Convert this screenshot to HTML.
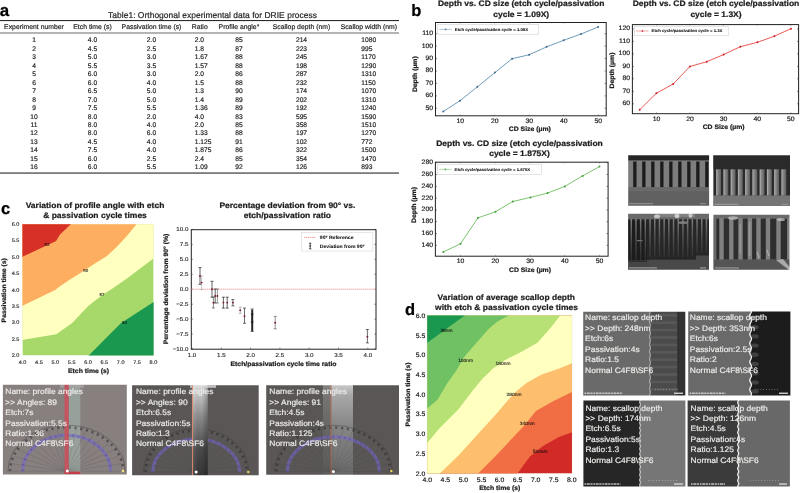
<!DOCTYPE html>
<html><head><meta charset="utf-8"><title>DRIE figure</title>
<style>
html,body{margin:0;padding:0;background:#fff;}
body{width:800px;height:493px;overflow:hidden;position:relative;font-family:"Liberation Sans",sans-serif;}
svg{position:absolute;left:0;top:0;font-family:"Liberation Sans",sans-serif;}
text{font-family:"Liberation Sans",sans-serif;text-rendering:geometricPrecision;}
</style></head><body>
<svg width="800" height="493" viewBox="0 0 800 493">
<defs>
<filter id="bl" x="-2%" y="-2%" width="104%" height="104%"><feGaussianBlur stdDeviation="0.3"/></filter>
<filter id="bl2" x="-2%" y="-2%" width="104%" height="104%"><feGaussianBlur stdDeviation="0.7"/></filter>
<filter id="bl3" x="-2%" y="-2%" width="104%" height="104%"><feGaussianBlur stdDeviation="1.1"/></filter>
</defs>
<rect x="0" y="0" width="800" height="493" fill="#ffffff"/>

<g id="panelA" filter="url(#bl)">
<text transform="translate(-0.30,16.00) scale(0.1000,0.1000)" font-size="170.0" text-anchor="start" font-weight="bold" fill="#000" stroke="#000" stroke-width="2.2" stroke-linejoin="round">a</text>
<text transform="translate(212.50,18.30) scale(0.1000,0.1000)" font-size="85.0" text-anchor="middle" fill="#1c1c1c" stroke="#1c1c1c" stroke-width="1.8" stroke-linejoin="round">Table1: Orthogonal experimental data for DRIE process</text>
<rect x="0" y="20.0" width="399" height="1.1" fill="#2a2a2a"/>
<rect x="0" y="32.6" width="399" height="0.8" fill="#444"/>
<rect x="0" y="172.5" width="399" height="1.1" fill="#2a2a2a"/>
<text transform="translate(34.00,29.30) scale(0.1000,0.1000)" font-size="68.5" text-anchor="middle" fill="#1c1c1c" stroke="#1c1c1c" stroke-width="1.8" stroke-linejoin="round">Experiment number</text>
<text transform="translate(92.50,29.30) scale(0.1000,0.1000)" font-size="68.5" text-anchor="middle" fill="#1c1c1c" stroke="#1c1c1c" stroke-width="1.8" stroke-linejoin="round">Etch time (s)</text>
<text transform="translate(151.50,29.30) scale(0.1000,0.1000)" font-size="68.5" text-anchor="middle" fill="#1c1c1c" stroke="#1c1c1c" stroke-width="1.8" stroke-linejoin="round">Passivation time (s)</text>
<text transform="translate(199.70,29.30) scale(0.1000,0.1000)" font-size="68.5" text-anchor="middle" fill="#1c1c1c" stroke="#1c1c1c" stroke-width="1.8" stroke-linejoin="round">Ratio</text>
<text transform="translate(239.00,29.30) scale(0.1000,0.1000)" font-size="68.5" text-anchor="middle" fill="#1c1c1c" stroke="#1c1c1c" stroke-width="1.8" stroke-linejoin="round">Profile angle°</text>
<text transform="translate(301.50,29.30) scale(0.1000,0.1000)" font-size="68.5" text-anchor="middle" fill="#1c1c1c" stroke="#1c1c1c" stroke-width="1.8" stroke-linejoin="round">Scallop depth (nm)</text>
<text transform="translate(368.80,29.30) scale(0.1000,0.1000)" font-size="68.5" text-anchor="middle" fill="#1c1c1c" stroke="#1c1c1c" stroke-width="1.8" stroke-linejoin="round">Scallop width (nm)</text>
<text transform="translate(34.00,42.30) scale(0.1000,0.1000)" font-size="67.0" text-anchor="middle" fill="#1c1c1c" stroke="#1c1c1c" stroke-width="1.8" stroke-linejoin="round">1</text>
<text transform="translate(92.50,42.30) scale(0.1000,0.1000)" font-size="67.0" text-anchor="middle" fill="#1c1c1c" stroke="#1c1c1c" stroke-width="1.8" stroke-linejoin="round">4.0</text>
<text transform="translate(151.50,42.30) scale(0.1000,0.1000)" font-size="67.0" text-anchor="middle" fill="#1c1c1c" stroke="#1c1c1c" stroke-width="1.8" stroke-linejoin="round">2.0</text>
<text transform="translate(194.70,42.30) scale(0.1000,0.1000)" font-size="67.0" text-anchor="start" fill="#1c1c1c" stroke="#1c1c1c" stroke-width="1.8" stroke-linejoin="round">2.0</text>
<text transform="translate(239.00,42.30) scale(0.1000,0.1000)" font-size="67.0" text-anchor="middle" fill="#1c1c1c" stroke="#1c1c1c" stroke-width="1.8" stroke-linejoin="round">85</text>
<text transform="translate(301.50,42.30) scale(0.1000,0.1000)" font-size="67.0" text-anchor="middle" fill="#1c1c1c" stroke="#1c1c1c" stroke-width="1.8" stroke-linejoin="round">214</text>
<text transform="translate(361.20,42.30) scale(0.1000,0.1000)" font-size="67.0" text-anchor="start" fill="#1c1c1c" stroke="#1c1c1c" stroke-width="1.8" stroke-linejoin="round">1080</text>
<text transform="translate(34.00,50.77) scale(0.1000,0.1000)" font-size="67.0" text-anchor="middle" fill="#1c1c1c" stroke="#1c1c1c" stroke-width="1.8" stroke-linejoin="round">2</text>
<text transform="translate(92.50,50.77) scale(0.1000,0.1000)" font-size="67.0" text-anchor="middle" fill="#1c1c1c" stroke="#1c1c1c" stroke-width="1.8" stroke-linejoin="round">4.5</text>
<text transform="translate(151.50,50.77) scale(0.1000,0.1000)" font-size="67.0" text-anchor="middle" fill="#1c1c1c" stroke="#1c1c1c" stroke-width="1.8" stroke-linejoin="round">2.5</text>
<text transform="translate(194.70,50.77) scale(0.1000,0.1000)" font-size="67.0" text-anchor="start" fill="#1c1c1c" stroke="#1c1c1c" stroke-width="1.8" stroke-linejoin="round">1.8</text>
<text transform="translate(239.00,50.77) scale(0.1000,0.1000)" font-size="67.0" text-anchor="middle" fill="#1c1c1c" stroke="#1c1c1c" stroke-width="1.8" stroke-linejoin="round">87</text>
<text transform="translate(301.50,50.77) scale(0.1000,0.1000)" font-size="67.0" text-anchor="middle" fill="#1c1c1c" stroke="#1c1c1c" stroke-width="1.8" stroke-linejoin="round">223</text>
<text transform="translate(361.20,50.77) scale(0.1000,0.1000)" font-size="67.0" text-anchor="start" fill="#1c1c1c" stroke="#1c1c1c" stroke-width="1.8" stroke-linejoin="round">995</text>
<text transform="translate(34.00,59.24) scale(0.1000,0.1000)" font-size="67.0" text-anchor="middle" fill="#1c1c1c" stroke="#1c1c1c" stroke-width="1.8" stroke-linejoin="round">3</text>
<text transform="translate(92.50,59.24) scale(0.1000,0.1000)" font-size="67.0" text-anchor="middle" fill="#1c1c1c" stroke="#1c1c1c" stroke-width="1.8" stroke-linejoin="round">5.0</text>
<text transform="translate(151.50,59.24) scale(0.1000,0.1000)" font-size="67.0" text-anchor="middle" fill="#1c1c1c" stroke="#1c1c1c" stroke-width="1.8" stroke-linejoin="round">3.0</text>
<text transform="translate(194.70,59.24) scale(0.1000,0.1000)" font-size="67.0" text-anchor="start" fill="#1c1c1c" stroke="#1c1c1c" stroke-width="1.8" stroke-linejoin="round">1.67</text>
<text transform="translate(239.00,59.24) scale(0.1000,0.1000)" font-size="67.0" text-anchor="middle" fill="#1c1c1c" stroke="#1c1c1c" stroke-width="1.8" stroke-linejoin="round">88</text>
<text transform="translate(301.50,59.24) scale(0.1000,0.1000)" font-size="67.0" text-anchor="middle" fill="#1c1c1c" stroke="#1c1c1c" stroke-width="1.8" stroke-linejoin="round">245</text>
<text transform="translate(361.20,59.24) scale(0.1000,0.1000)" font-size="67.0" text-anchor="start" fill="#1c1c1c" stroke="#1c1c1c" stroke-width="1.8" stroke-linejoin="round">1170</text>
<text transform="translate(34.00,67.71) scale(0.1000,0.1000)" font-size="67.0" text-anchor="middle" fill="#1c1c1c" stroke="#1c1c1c" stroke-width="1.8" stroke-linejoin="round">4</text>
<text transform="translate(92.50,67.71) scale(0.1000,0.1000)" font-size="67.0" text-anchor="middle" fill="#1c1c1c" stroke="#1c1c1c" stroke-width="1.8" stroke-linejoin="round">5.5</text>
<text transform="translate(151.50,67.71) scale(0.1000,0.1000)" font-size="67.0" text-anchor="middle" fill="#1c1c1c" stroke="#1c1c1c" stroke-width="1.8" stroke-linejoin="round">3.5</text>
<text transform="translate(194.70,67.71) scale(0.1000,0.1000)" font-size="67.0" text-anchor="start" fill="#1c1c1c" stroke="#1c1c1c" stroke-width="1.8" stroke-linejoin="round">1.57</text>
<text transform="translate(239.00,67.71) scale(0.1000,0.1000)" font-size="67.0" text-anchor="middle" fill="#1c1c1c" stroke="#1c1c1c" stroke-width="1.8" stroke-linejoin="round">88</text>
<text transform="translate(301.50,67.71) scale(0.1000,0.1000)" font-size="67.0" text-anchor="middle" fill="#1c1c1c" stroke="#1c1c1c" stroke-width="1.8" stroke-linejoin="round">198</text>
<text transform="translate(361.20,67.71) scale(0.1000,0.1000)" font-size="67.0" text-anchor="start" fill="#1c1c1c" stroke="#1c1c1c" stroke-width="1.8" stroke-linejoin="round">1290</text>
<text transform="translate(34.00,76.18) scale(0.1000,0.1000)" font-size="67.0" text-anchor="middle" fill="#1c1c1c" stroke="#1c1c1c" stroke-width="1.8" stroke-linejoin="round">5</text>
<text transform="translate(92.50,76.18) scale(0.1000,0.1000)" font-size="67.0" text-anchor="middle" fill="#1c1c1c" stroke="#1c1c1c" stroke-width="1.8" stroke-linejoin="round">6.0</text>
<text transform="translate(151.50,76.18) scale(0.1000,0.1000)" font-size="67.0" text-anchor="middle" fill="#1c1c1c" stroke="#1c1c1c" stroke-width="1.8" stroke-linejoin="round">3.0</text>
<text transform="translate(194.70,76.18) scale(0.1000,0.1000)" font-size="67.0" text-anchor="start" fill="#1c1c1c" stroke="#1c1c1c" stroke-width="1.8" stroke-linejoin="round">2.0</text>
<text transform="translate(239.00,76.18) scale(0.1000,0.1000)" font-size="67.0" text-anchor="middle" fill="#1c1c1c" stroke="#1c1c1c" stroke-width="1.8" stroke-linejoin="round">86</text>
<text transform="translate(301.50,76.18) scale(0.1000,0.1000)" font-size="67.0" text-anchor="middle" fill="#1c1c1c" stroke="#1c1c1c" stroke-width="1.8" stroke-linejoin="round">287</text>
<text transform="translate(361.20,76.18) scale(0.1000,0.1000)" font-size="67.0" text-anchor="start" fill="#1c1c1c" stroke="#1c1c1c" stroke-width="1.8" stroke-linejoin="round">1310</text>
<text transform="translate(34.00,84.65) scale(0.1000,0.1000)" font-size="67.0" text-anchor="middle" fill="#1c1c1c" stroke="#1c1c1c" stroke-width="1.8" stroke-linejoin="round">6</text>
<text transform="translate(92.50,84.65) scale(0.1000,0.1000)" font-size="67.0" text-anchor="middle" fill="#1c1c1c" stroke="#1c1c1c" stroke-width="1.8" stroke-linejoin="round">6.0</text>
<text transform="translate(151.50,84.65) scale(0.1000,0.1000)" font-size="67.0" text-anchor="middle" fill="#1c1c1c" stroke="#1c1c1c" stroke-width="1.8" stroke-linejoin="round">4.0</text>
<text transform="translate(194.70,84.65) scale(0.1000,0.1000)" font-size="67.0" text-anchor="start" fill="#1c1c1c" stroke="#1c1c1c" stroke-width="1.8" stroke-linejoin="round">1.5</text>
<text transform="translate(239.00,84.65) scale(0.1000,0.1000)" font-size="67.0" text-anchor="middle" fill="#1c1c1c" stroke="#1c1c1c" stroke-width="1.8" stroke-linejoin="round">88</text>
<text transform="translate(301.50,84.65) scale(0.1000,0.1000)" font-size="67.0" text-anchor="middle" fill="#1c1c1c" stroke="#1c1c1c" stroke-width="1.8" stroke-linejoin="round">232</text>
<text transform="translate(361.20,84.65) scale(0.1000,0.1000)" font-size="67.0" text-anchor="start" fill="#1c1c1c" stroke="#1c1c1c" stroke-width="1.8" stroke-linejoin="round">1150</text>
<text transform="translate(34.00,93.12) scale(0.1000,0.1000)" font-size="67.0" text-anchor="middle" fill="#1c1c1c" stroke="#1c1c1c" stroke-width="1.8" stroke-linejoin="round">7</text>
<text transform="translate(92.50,93.12) scale(0.1000,0.1000)" font-size="67.0" text-anchor="middle" fill="#1c1c1c" stroke="#1c1c1c" stroke-width="1.8" stroke-linejoin="round">6.5</text>
<text transform="translate(151.50,93.12) scale(0.1000,0.1000)" font-size="67.0" text-anchor="middle" fill="#1c1c1c" stroke="#1c1c1c" stroke-width="1.8" stroke-linejoin="round">5.0</text>
<text transform="translate(194.70,93.12) scale(0.1000,0.1000)" font-size="67.0" text-anchor="start" fill="#1c1c1c" stroke="#1c1c1c" stroke-width="1.8" stroke-linejoin="round">1.3</text>
<text transform="translate(239.00,93.12) scale(0.1000,0.1000)" font-size="67.0" text-anchor="middle" fill="#1c1c1c" stroke="#1c1c1c" stroke-width="1.8" stroke-linejoin="round">90</text>
<text transform="translate(301.50,93.12) scale(0.1000,0.1000)" font-size="67.0" text-anchor="middle" fill="#1c1c1c" stroke="#1c1c1c" stroke-width="1.8" stroke-linejoin="round">174</text>
<text transform="translate(361.20,93.12) scale(0.1000,0.1000)" font-size="67.0" text-anchor="start" fill="#1c1c1c" stroke="#1c1c1c" stroke-width="1.8" stroke-linejoin="round">1070</text>
<text transform="translate(34.00,101.59) scale(0.1000,0.1000)" font-size="67.0" text-anchor="middle" fill="#1c1c1c" stroke="#1c1c1c" stroke-width="1.8" stroke-linejoin="round">8</text>
<text transform="translate(92.50,101.59) scale(0.1000,0.1000)" font-size="67.0" text-anchor="middle" fill="#1c1c1c" stroke="#1c1c1c" stroke-width="1.8" stroke-linejoin="round">7.0</text>
<text transform="translate(151.50,101.59) scale(0.1000,0.1000)" font-size="67.0" text-anchor="middle" fill="#1c1c1c" stroke="#1c1c1c" stroke-width="1.8" stroke-linejoin="round">5.0</text>
<text transform="translate(194.70,101.59) scale(0.1000,0.1000)" font-size="67.0" text-anchor="start" fill="#1c1c1c" stroke="#1c1c1c" stroke-width="1.8" stroke-linejoin="round">1.4</text>
<text transform="translate(239.00,101.59) scale(0.1000,0.1000)" font-size="67.0" text-anchor="middle" fill="#1c1c1c" stroke="#1c1c1c" stroke-width="1.8" stroke-linejoin="round">89</text>
<text transform="translate(301.50,101.59) scale(0.1000,0.1000)" font-size="67.0" text-anchor="middle" fill="#1c1c1c" stroke="#1c1c1c" stroke-width="1.8" stroke-linejoin="round">202</text>
<text transform="translate(361.20,101.59) scale(0.1000,0.1000)" font-size="67.0" text-anchor="start" fill="#1c1c1c" stroke="#1c1c1c" stroke-width="1.8" stroke-linejoin="round">1310</text>
<text transform="translate(34.00,110.06) scale(0.1000,0.1000)" font-size="67.0" text-anchor="middle" fill="#1c1c1c" stroke="#1c1c1c" stroke-width="1.8" stroke-linejoin="round">9</text>
<text transform="translate(92.50,110.06) scale(0.1000,0.1000)" font-size="67.0" text-anchor="middle" fill="#1c1c1c" stroke="#1c1c1c" stroke-width="1.8" stroke-linejoin="round">7.5</text>
<text transform="translate(151.50,110.06) scale(0.1000,0.1000)" font-size="67.0" text-anchor="middle" fill="#1c1c1c" stroke="#1c1c1c" stroke-width="1.8" stroke-linejoin="round">5.5</text>
<text transform="translate(194.70,110.06) scale(0.1000,0.1000)" font-size="67.0" text-anchor="start" fill="#1c1c1c" stroke="#1c1c1c" stroke-width="1.8" stroke-linejoin="round">1.36</text>
<text transform="translate(239.00,110.06) scale(0.1000,0.1000)" font-size="67.0" text-anchor="middle" fill="#1c1c1c" stroke="#1c1c1c" stroke-width="1.8" stroke-linejoin="round">89</text>
<text transform="translate(301.50,110.06) scale(0.1000,0.1000)" font-size="67.0" text-anchor="middle" fill="#1c1c1c" stroke="#1c1c1c" stroke-width="1.8" stroke-linejoin="round">192</text>
<text transform="translate(361.20,110.06) scale(0.1000,0.1000)" font-size="67.0" text-anchor="start" fill="#1c1c1c" stroke="#1c1c1c" stroke-width="1.8" stroke-linejoin="round">1240</text>
<text transform="translate(34.00,118.53) scale(0.1000,0.1000)" font-size="67.0" text-anchor="middle" fill="#1c1c1c" stroke="#1c1c1c" stroke-width="1.8" stroke-linejoin="round">10</text>
<text transform="translate(92.50,118.53) scale(0.1000,0.1000)" font-size="67.0" text-anchor="middle" fill="#1c1c1c" stroke="#1c1c1c" stroke-width="1.8" stroke-linejoin="round">8.0</text>
<text transform="translate(151.50,118.53) scale(0.1000,0.1000)" font-size="67.0" text-anchor="middle" fill="#1c1c1c" stroke="#1c1c1c" stroke-width="1.8" stroke-linejoin="round">2.0</text>
<text transform="translate(194.70,118.53) scale(0.1000,0.1000)" font-size="67.0" text-anchor="start" fill="#1c1c1c" stroke="#1c1c1c" stroke-width="1.8" stroke-linejoin="round">4.0</text>
<text transform="translate(239.00,118.53) scale(0.1000,0.1000)" font-size="67.0" text-anchor="middle" fill="#1c1c1c" stroke="#1c1c1c" stroke-width="1.8" stroke-linejoin="round">83</text>
<text transform="translate(301.50,118.53) scale(0.1000,0.1000)" font-size="67.0" text-anchor="middle" fill="#1c1c1c" stroke="#1c1c1c" stroke-width="1.8" stroke-linejoin="round">595</text>
<text transform="translate(361.20,118.53) scale(0.1000,0.1000)" font-size="67.0" text-anchor="start" fill="#1c1c1c" stroke="#1c1c1c" stroke-width="1.8" stroke-linejoin="round">1590</text>
<text transform="translate(34.00,127.00) scale(0.1000,0.1000)" font-size="67.0" text-anchor="middle" fill="#1c1c1c" stroke="#1c1c1c" stroke-width="1.8" stroke-linejoin="round">11</text>
<text transform="translate(92.50,127.00) scale(0.1000,0.1000)" font-size="67.0" text-anchor="middle" fill="#1c1c1c" stroke="#1c1c1c" stroke-width="1.8" stroke-linejoin="round">8.0</text>
<text transform="translate(151.50,127.00) scale(0.1000,0.1000)" font-size="67.0" text-anchor="middle" fill="#1c1c1c" stroke="#1c1c1c" stroke-width="1.8" stroke-linejoin="round">4.0</text>
<text transform="translate(194.70,127.00) scale(0.1000,0.1000)" font-size="67.0" text-anchor="start" fill="#1c1c1c" stroke="#1c1c1c" stroke-width="1.8" stroke-linejoin="round">2.0</text>
<text transform="translate(239.00,127.00) scale(0.1000,0.1000)" font-size="67.0" text-anchor="middle" fill="#1c1c1c" stroke="#1c1c1c" stroke-width="1.8" stroke-linejoin="round">85</text>
<text transform="translate(301.50,127.00) scale(0.1000,0.1000)" font-size="67.0" text-anchor="middle" fill="#1c1c1c" stroke="#1c1c1c" stroke-width="1.8" stroke-linejoin="round">358</text>
<text transform="translate(361.20,127.00) scale(0.1000,0.1000)" font-size="67.0" text-anchor="start" fill="#1c1c1c" stroke="#1c1c1c" stroke-width="1.8" stroke-linejoin="round">1510</text>
<text transform="translate(34.00,135.47) scale(0.1000,0.1000)" font-size="67.0" text-anchor="middle" fill="#1c1c1c" stroke="#1c1c1c" stroke-width="1.8" stroke-linejoin="round">12</text>
<text transform="translate(92.50,135.47) scale(0.1000,0.1000)" font-size="67.0" text-anchor="middle" fill="#1c1c1c" stroke="#1c1c1c" stroke-width="1.8" stroke-linejoin="round">8.0</text>
<text transform="translate(151.50,135.47) scale(0.1000,0.1000)" font-size="67.0" text-anchor="middle" fill="#1c1c1c" stroke="#1c1c1c" stroke-width="1.8" stroke-linejoin="round">6.0</text>
<text transform="translate(194.70,135.47) scale(0.1000,0.1000)" font-size="67.0" text-anchor="start" fill="#1c1c1c" stroke="#1c1c1c" stroke-width="1.8" stroke-linejoin="round">1.33</text>
<text transform="translate(239.00,135.47) scale(0.1000,0.1000)" font-size="67.0" text-anchor="middle" fill="#1c1c1c" stroke="#1c1c1c" stroke-width="1.8" stroke-linejoin="round">88</text>
<text transform="translate(301.50,135.47) scale(0.1000,0.1000)" font-size="67.0" text-anchor="middle" fill="#1c1c1c" stroke="#1c1c1c" stroke-width="1.8" stroke-linejoin="round">197</text>
<text transform="translate(361.20,135.47) scale(0.1000,0.1000)" font-size="67.0" text-anchor="start" fill="#1c1c1c" stroke="#1c1c1c" stroke-width="1.8" stroke-linejoin="round">1270</text>
<text transform="translate(34.00,143.94) scale(0.1000,0.1000)" font-size="67.0" text-anchor="middle" fill="#1c1c1c" stroke="#1c1c1c" stroke-width="1.8" stroke-linejoin="round">13</text>
<text transform="translate(92.50,143.94) scale(0.1000,0.1000)" font-size="67.0" text-anchor="middle" fill="#1c1c1c" stroke="#1c1c1c" stroke-width="1.8" stroke-linejoin="round">4.5</text>
<text transform="translate(151.50,143.94) scale(0.1000,0.1000)" font-size="67.0" text-anchor="middle" fill="#1c1c1c" stroke="#1c1c1c" stroke-width="1.8" stroke-linejoin="round">4.0</text>
<text transform="translate(194.70,143.94) scale(0.1000,0.1000)" font-size="67.0" text-anchor="start" fill="#1c1c1c" stroke="#1c1c1c" stroke-width="1.8" stroke-linejoin="round">1.125</text>
<text transform="translate(239.00,143.94) scale(0.1000,0.1000)" font-size="67.0" text-anchor="middle" fill="#1c1c1c" stroke="#1c1c1c" stroke-width="1.8" stroke-linejoin="round">91</text>
<text transform="translate(301.50,143.94) scale(0.1000,0.1000)" font-size="67.0" text-anchor="middle" fill="#1c1c1c" stroke="#1c1c1c" stroke-width="1.8" stroke-linejoin="round">102</text>
<text transform="translate(361.20,143.94) scale(0.1000,0.1000)" font-size="67.0" text-anchor="start" fill="#1c1c1c" stroke="#1c1c1c" stroke-width="1.8" stroke-linejoin="round">772</text>
<text transform="translate(34.00,152.41) scale(0.1000,0.1000)" font-size="67.0" text-anchor="middle" fill="#1c1c1c" stroke="#1c1c1c" stroke-width="1.8" stroke-linejoin="round">14</text>
<text transform="translate(92.50,152.41) scale(0.1000,0.1000)" font-size="67.0" text-anchor="middle" fill="#1c1c1c" stroke="#1c1c1c" stroke-width="1.8" stroke-linejoin="round">7.5</text>
<text transform="translate(151.50,152.41) scale(0.1000,0.1000)" font-size="67.0" text-anchor="middle" fill="#1c1c1c" stroke="#1c1c1c" stroke-width="1.8" stroke-linejoin="round">4.0</text>
<text transform="translate(194.70,152.41) scale(0.1000,0.1000)" font-size="67.0" text-anchor="start" fill="#1c1c1c" stroke="#1c1c1c" stroke-width="1.8" stroke-linejoin="round">1.875</text>
<text transform="translate(239.00,152.41) scale(0.1000,0.1000)" font-size="67.0" text-anchor="middle" fill="#1c1c1c" stroke="#1c1c1c" stroke-width="1.8" stroke-linejoin="round">86</text>
<text transform="translate(301.50,152.41) scale(0.1000,0.1000)" font-size="67.0" text-anchor="middle" fill="#1c1c1c" stroke="#1c1c1c" stroke-width="1.8" stroke-linejoin="round">322</text>
<text transform="translate(361.20,152.41) scale(0.1000,0.1000)" font-size="67.0" text-anchor="start" fill="#1c1c1c" stroke="#1c1c1c" stroke-width="1.8" stroke-linejoin="round">1500</text>
<text transform="translate(34.00,160.88) scale(0.1000,0.1000)" font-size="67.0" text-anchor="middle" fill="#1c1c1c" stroke="#1c1c1c" stroke-width="1.8" stroke-linejoin="round">15</text>
<text transform="translate(92.50,160.88) scale(0.1000,0.1000)" font-size="67.0" text-anchor="middle" fill="#1c1c1c" stroke="#1c1c1c" stroke-width="1.8" stroke-linejoin="round">6.0</text>
<text transform="translate(151.50,160.88) scale(0.1000,0.1000)" font-size="67.0" text-anchor="middle" fill="#1c1c1c" stroke="#1c1c1c" stroke-width="1.8" stroke-linejoin="round">2.5</text>
<text transform="translate(194.70,160.88) scale(0.1000,0.1000)" font-size="67.0" text-anchor="start" fill="#1c1c1c" stroke="#1c1c1c" stroke-width="1.8" stroke-linejoin="round">2.4</text>
<text transform="translate(239.00,160.88) scale(0.1000,0.1000)" font-size="67.0" text-anchor="middle" fill="#1c1c1c" stroke="#1c1c1c" stroke-width="1.8" stroke-linejoin="round">85</text>
<text transform="translate(301.50,160.88) scale(0.1000,0.1000)" font-size="67.0" text-anchor="middle" fill="#1c1c1c" stroke="#1c1c1c" stroke-width="1.8" stroke-linejoin="round">354</text>
<text transform="translate(361.20,160.88) scale(0.1000,0.1000)" font-size="67.0" text-anchor="start" fill="#1c1c1c" stroke="#1c1c1c" stroke-width="1.8" stroke-linejoin="round">1470</text>
<text transform="translate(34.00,169.35) scale(0.1000,0.1000)" font-size="67.0" text-anchor="middle" fill="#1c1c1c" stroke="#1c1c1c" stroke-width="1.8" stroke-linejoin="round">16</text>
<text transform="translate(92.50,169.35) scale(0.1000,0.1000)" font-size="67.0" text-anchor="middle" fill="#1c1c1c" stroke="#1c1c1c" stroke-width="1.8" stroke-linejoin="round">6.0</text>
<text transform="translate(151.50,169.35) scale(0.1000,0.1000)" font-size="67.0" text-anchor="middle" fill="#1c1c1c" stroke="#1c1c1c" stroke-width="1.8" stroke-linejoin="round">5.5</text>
<text transform="translate(194.70,169.35) scale(0.1000,0.1000)" font-size="67.0" text-anchor="start" fill="#1c1c1c" stroke="#1c1c1c" stroke-width="1.8" stroke-linejoin="round">1.09</text>
<text transform="translate(239.00,169.35) scale(0.1000,0.1000)" font-size="67.0" text-anchor="middle" fill="#1c1c1c" stroke="#1c1c1c" stroke-width="1.8" stroke-linejoin="round">92</text>
<text transform="translate(301.50,169.35) scale(0.1000,0.1000)" font-size="67.0" text-anchor="middle" fill="#1c1c1c" stroke="#1c1c1c" stroke-width="1.8" stroke-linejoin="round">126</text>
<text transform="translate(361.20,169.35) scale(0.1000,0.1000)" font-size="67.0" text-anchor="start" fill="#1c1c1c" stroke="#1c1c1c" stroke-width="1.8" stroke-linejoin="round">893</text>
</g>
<g id="panelB" filter="url(#bl)">
<text transform="translate(411.20,15.80) scale(0.1000,0.1000)" font-size="166.0" text-anchor="start" font-weight="bold" fill="#000" stroke="#000" stroke-width="2.2" stroke-linejoin="round">b</text>
<rect x="435.5" y="22.5" width="170.70" height="93.30" fill="#fff" stroke="#222" stroke-width="1"/>
<text transform="translate(521.20,6.40) scale(0.1061,0.1000)" font-size="80.0" text-anchor="middle" font-weight="bold" fill="#1c1c1c" stroke="#1c1c1c" stroke-width="2.2" stroke-linejoin="round">Depth vs. CD size (etch cycle/passivation</text>
<text transform="translate(521.20,16.60) scale(0.1061,0.1000)" font-size="80.0" text-anchor="middle" font-weight="bold" fill="#1c1c1c" stroke="#1c1c1c" stroke-width="2.2" stroke-linejoin="round">cycle = 1.09X)</text>
<line x1="460.20" y1="115.8" x2="460.20" y2="114.39999999999999" stroke="#222" stroke-width="0.45" opacity="0.7"/>
<line x1="460.20" y1="22.5" x2="460.20" y2="23.9" stroke="#222" stroke-width="0.45" opacity="0.5"/>
<text transform="translate(460.20,122.80) scale(0.1060,0.1000)" font-size="64.5" text-anchor="middle" fill="#1c1c1c" stroke="#1c1c1c" stroke-width="1.8" stroke-linejoin="round">10</text>
<line x1="494.70" y1="115.8" x2="494.70" y2="114.39999999999999" stroke="#222" stroke-width="0.45" opacity="0.7"/>
<line x1="494.70" y1="22.5" x2="494.70" y2="23.9" stroke="#222" stroke-width="0.45" opacity="0.5"/>
<text transform="translate(494.70,122.80) scale(0.1060,0.1000)" font-size="64.5" text-anchor="middle" fill="#1c1c1c" stroke="#1c1c1c" stroke-width="1.8" stroke-linejoin="round">20</text>
<line x1="529.20" y1="115.8" x2="529.20" y2="114.39999999999999" stroke="#222" stroke-width="0.45" opacity="0.7"/>
<line x1="529.20" y1="22.5" x2="529.20" y2="23.9" stroke="#222" stroke-width="0.45" opacity="0.5"/>
<text transform="translate(529.20,122.80) scale(0.1060,0.1000)" font-size="64.5" text-anchor="middle" fill="#1c1c1c" stroke="#1c1c1c" stroke-width="1.8" stroke-linejoin="round">30</text>
<line x1="563.70" y1="115.8" x2="563.70" y2="114.39999999999999" stroke="#222" stroke-width="0.45" opacity="0.7"/>
<line x1="563.70" y1="22.5" x2="563.70" y2="23.9" stroke="#222" stroke-width="0.45" opacity="0.5"/>
<text transform="translate(563.70,122.80) scale(0.1060,0.1000)" font-size="64.5" text-anchor="middle" fill="#1c1c1c" stroke="#1c1c1c" stroke-width="1.8" stroke-linejoin="round">40</text>
<line x1="598.20" y1="115.8" x2="598.20" y2="114.39999999999999" stroke="#222" stroke-width="0.45" opacity="0.7"/>
<line x1="598.20" y1="22.5" x2="598.20" y2="23.9" stroke="#222" stroke-width="0.45" opacity="0.5"/>
<text transform="translate(598.20,122.80) scale(0.1060,0.1000)" font-size="64.5" text-anchor="middle" fill="#1c1c1c" stroke="#1c1c1c" stroke-width="1.8" stroke-linejoin="round">50</text>
<line x1="435.5" y1="108.30" x2="437.1" y2="108.30" stroke="#222" stroke-width="0.5"/>
<line x1="606.2" y1="108.30" x2="604.6" y2="108.30" stroke="#222" stroke-width="0.5"/>
<text transform="translate(433.10,109.70) scale(0.1060,0.1000)" font-size="64.5" text-anchor="end" fill="#1c1c1c" stroke="#1c1c1c" stroke-width="1.8" stroke-linejoin="round">50</text>
<line x1="435.5" y1="95.87" x2="437.1" y2="95.87" stroke="#222" stroke-width="0.5"/>
<line x1="606.2" y1="95.87" x2="604.6" y2="95.87" stroke="#222" stroke-width="0.5"/>
<text transform="translate(433.10,97.27) scale(0.1060,0.1000)" font-size="64.5" text-anchor="end" fill="#1c1c1c" stroke="#1c1c1c" stroke-width="1.8" stroke-linejoin="round">60</text>
<line x1="435.5" y1="83.44" x2="437.1" y2="83.44" stroke="#222" stroke-width="0.5"/>
<line x1="606.2" y1="83.44" x2="604.6" y2="83.44" stroke="#222" stroke-width="0.5"/>
<text transform="translate(433.10,84.84) scale(0.1060,0.1000)" font-size="64.5" text-anchor="end" fill="#1c1c1c" stroke="#1c1c1c" stroke-width="1.8" stroke-linejoin="round">70</text>
<line x1="435.5" y1="71.00" x2="437.1" y2="71.00" stroke="#222" stroke-width="0.5"/>
<line x1="606.2" y1="71.00" x2="604.6" y2="71.00" stroke="#222" stroke-width="0.5"/>
<text transform="translate(433.10,72.40) scale(0.1060,0.1000)" font-size="64.5" text-anchor="end" fill="#1c1c1c" stroke="#1c1c1c" stroke-width="1.8" stroke-linejoin="round">80</text>
<line x1="435.5" y1="58.57" x2="437.1" y2="58.57" stroke="#222" stroke-width="0.5"/>
<line x1="606.2" y1="58.57" x2="604.6" y2="58.57" stroke="#222" stroke-width="0.5"/>
<text transform="translate(433.10,59.97) scale(0.1060,0.1000)" font-size="64.5" text-anchor="end" fill="#1c1c1c" stroke="#1c1c1c" stroke-width="1.8" stroke-linejoin="round">90</text>
<line x1="435.5" y1="46.13" x2="437.1" y2="46.13" stroke="#222" stroke-width="0.5"/>
<line x1="606.2" y1="46.13" x2="604.6" y2="46.13" stroke="#222" stroke-width="0.5"/>
<text transform="translate(433.10,47.53) scale(0.1060,0.1000)" font-size="64.5" text-anchor="end" fill="#1c1c1c" stroke="#1c1c1c" stroke-width="1.8" stroke-linejoin="round">100</text>
<line x1="435.5" y1="33.70" x2="437.1" y2="33.70" stroke="#222" stroke-width="0.5"/>
<line x1="606.2" y1="33.70" x2="604.6" y2="33.70" stroke="#222" stroke-width="0.5"/>
<text transform="translate(433.10,35.10) scale(0.1060,0.1000)" font-size="64.5" text-anchor="end" fill="#1c1c1c" stroke="#1c1c1c" stroke-width="1.8" stroke-linejoin="round">110</text>
<polyline points="443.20,111.60 460.00,100.70 477.40,86.80 494.90,72.60 512.10,58.70 529.10,54.80 546.70,46.80 563.70,40.30 581.00,34.00 598.10,27.00" fill="none" stroke="#6f9cba" stroke-width="1.0" stroke-linejoin="round"/>
<circle cx="443.20" cy="111.60" r="1.0" fill="#3c6b8e"/>
<circle cx="460.00" cy="100.70" r="1.0" fill="#3c6b8e"/>
<circle cx="477.40" cy="86.80" r="1.0" fill="#3c6b8e"/>
<circle cx="494.90" cy="72.60" r="1.0" fill="#3c6b8e"/>
<circle cx="512.10" cy="58.70" r="1.0" fill="#3c6b8e"/>
<circle cx="529.10" cy="54.80" r="1.0" fill="#3c6b8e"/>
<circle cx="546.70" cy="46.80" r="1.0" fill="#3c6b8e"/>
<circle cx="563.70" cy="40.30" r="1.0" fill="#3c6b8e"/>
<circle cx="581.00" cy="34.00" r="1.0" fill="#3c6b8e"/>
<circle cx="598.10" cy="27.00" r="1.0" fill="#3c6b8e"/>
<rect x="437.8" y="24.6" width="101" height="9.6" fill="#fff" stroke="#c8c8c8" stroke-width="0.5"/>
<line x1="439.3" y1="29.400000000000002" x2="451.8" y2="29.400000000000002" stroke="#6f9cba" stroke-width="0.9" opacity="0.6"/>
<circle cx="445.6" cy="29.400000000000002" r="0.9" fill="#3c6b8e" opacity="0.8"/>
<text transform="translate(454.80,30.85) scale(0.1060,0.1000)" font-size="40.0" text-anchor="start" font-weight="bold" fill="#111" stroke="#111" stroke-width="0.7" stroke-linejoin="round">Etch cycle/passivation cycle = 1.09X</text>
<text transform="translate(529.80,131.30) scale(0.1060,0.1000)" font-size="64.5" text-anchor="middle" font-weight="bold" fill="#1c1c1c" stroke="#1c1c1c" stroke-width="2.2" stroke-linejoin="round">CD Size (µm)</text>
<text transform="translate(417.40,74.20) rotate(-90) scale(0.1060,0.1000)" font-size="64.5" text-anchor="middle" font-weight="bold" fill="#1c1c1c" stroke="#1c1c1c" stroke-width="2.2" stroke-linejoin="round">Depth (µm)</text>
<rect x="632.4" y="24.6" width="166.20" height="89.10" fill="#fff" stroke="#222" stroke-width="1"/>
<text transform="translate(716.00,6.40) scale(0.1061,0.1000)" font-size="80.0" text-anchor="middle" font-weight="bold" fill="#1c1c1c" stroke="#1c1c1c" stroke-width="2.2" stroke-linejoin="round">Depth vs. CD size (etch cycle/passivation</text>
<text transform="translate(716.00,16.60) scale(0.1061,0.1000)" font-size="80.0" text-anchor="middle" font-weight="bold" fill="#1c1c1c" stroke="#1c1c1c" stroke-width="2.2" stroke-linejoin="round">cycle = 1.3X)</text>
<line x1="656.50" y1="113.7" x2="656.50" y2="112.3" stroke="#222" stroke-width="0.45" opacity="0.7"/>
<line x1="656.50" y1="24.6" x2="656.50" y2="26.0" stroke="#222" stroke-width="0.45" opacity="0.5"/>
<text transform="translate(656.50,120.70) scale(0.1060,0.1000)" font-size="64.5" text-anchor="middle" fill="#1c1c1c" stroke="#1c1c1c" stroke-width="1.8" stroke-linejoin="round">10</text>
<line x1="690.00" y1="113.7" x2="690.00" y2="112.3" stroke="#222" stroke-width="0.45" opacity="0.7"/>
<line x1="690.00" y1="24.6" x2="690.00" y2="26.0" stroke="#222" stroke-width="0.45" opacity="0.5"/>
<text transform="translate(690.00,120.70) scale(0.1060,0.1000)" font-size="64.5" text-anchor="middle" fill="#1c1c1c" stroke="#1c1c1c" stroke-width="1.8" stroke-linejoin="round">20</text>
<line x1="723.50" y1="113.7" x2="723.50" y2="112.3" stroke="#222" stroke-width="0.45" opacity="0.7"/>
<line x1="723.50" y1="24.6" x2="723.50" y2="26.0" stroke="#222" stroke-width="0.45" opacity="0.5"/>
<text transform="translate(723.50,120.70) scale(0.1060,0.1000)" font-size="64.5" text-anchor="middle" fill="#1c1c1c" stroke="#1c1c1c" stroke-width="1.8" stroke-linejoin="round">30</text>
<line x1="757.20" y1="113.7" x2="757.20" y2="112.3" stroke="#222" stroke-width="0.45" opacity="0.7"/>
<line x1="757.20" y1="24.6" x2="757.20" y2="26.0" stroke="#222" stroke-width="0.45" opacity="0.5"/>
<text transform="translate(757.20,120.70) scale(0.1060,0.1000)" font-size="64.5" text-anchor="middle" fill="#1c1c1c" stroke="#1c1c1c" stroke-width="1.8" stroke-linejoin="round">40</text>
<line x1="790.80" y1="113.7" x2="790.80" y2="112.3" stroke="#222" stroke-width="0.45" opacity="0.7"/>
<line x1="790.80" y1="24.6" x2="790.80" y2="26.0" stroke="#222" stroke-width="0.45" opacity="0.5"/>
<text transform="translate(790.80,120.70) scale(0.1060,0.1000)" font-size="64.5" text-anchor="middle" fill="#1c1c1c" stroke="#1c1c1c" stroke-width="1.8" stroke-linejoin="round">50</text>
<line x1="632.4" y1="103.80" x2="634.0" y2="103.80" stroke="#222" stroke-width="0.5"/>
<line x1="798.6" y1="103.80" x2="797.0" y2="103.80" stroke="#222" stroke-width="0.5"/>
<text transform="translate(630.00,105.20) scale(0.1060,0.1000)" font-size="64.5" text-anchor="end" fill="#1c1c1c" stroke="#1c1c1c" stroke-width="1.8" stroke-linejoin="round">60</text>
<line x1="632.4" y1="91.30" x2="634.0" y2="91.30" stroke="#222" stroke-width="0.5"/>
<line x1="798.6" y1="91.30" x2="797.0" y2="91.30" stroke="#222" stroke-width="0.5"/>
<text transform="translate(630.00,92.70) scale(0.1060,0.1000)" font-size="64.5" text-anchor="end" fill="#1c1c1c" stroke="#1c1c1c" stroke-width="1.8" stroke-linejoin="round">70</text>
<line x1="632.4" y1="78.80" x2="634.0" y2="78.80" stroke="#222" stroke-width="0.5"/>
<line x1="798.6" y1="78.80" x2="797.0" y2="78.80" stroke="#222" stroke-width="0.5"/>
<text transform="translate(630.00,80.20) scale(0.1060,0.1000)" font-size="64.5" text-anchor="end" fill="#1c1c1c" stroke="#1c1c1c" stroke-width="1.8" stroke-linejoin="round">80</text>
<line x1="632.4" y1="66.40" x2="634.0" y2="66.40" stroke="#222" stroke-width="0.5"/>
<line x1="798.6" y1="66.40" x2="797.0" y2="66.40" stroke="#222" stroke-width="0.5"/>
<text transform="translate(630.00,67.80) scale(0.1060,0.1000)" font-size="64.5" text-anchor="end" fill="#1c1c1c" stroke="#1c1c1c" stroke-width="1.8" stroke-linejoin="round">90</text>
<line x1="632.4" y1="53.90" x2="634.0" y2="53.90" stroke="#222" stroke-width="0.5"/>
<line x1="798.6" y1="53.90" x2="797.0" y2="53.90" stroke="#222" stroke-width="0.5"/>
<text transform="translate(630.00,55.30) scale(0.1060,0.1000)" font-size="64.5" text-anchor="end" fill="#1c1c1c" stroke="#1c1c1c" stroke-width="1.8" stroke-linejoin="round">100</text>
<line x1="632.4" y1="41.40" x2="634.0" y2="41.40" stroke="#222" stroke-width="0.5"/>
<line x1="798.6" y1="41.40" x2="797.0" y2="41.40" stroke="#222" stroke-width="0.5"/>
<text transform="translate(630.00,42.80) scale(0.1060,0.1000)" font-size="64.5" text-anchor="end" fill="#1c1c1c" stroke="#1c1c1c" stroke-width="1.8" stroke-linejoin="round">110</text>
<line x1="632.4" y1="29.00" x2="634.0" y2="29.00" stroke="#222" stroke-width="0.5"/>
<line x1="798.6" y1="29.00" x2="797.0" y2="29.00" stroke="#222" stroke-width="0.5"/>
<text transform="translate(630.00,30.40) scale(0.1060,0.1000)" font-size="64.5" text-anchor="end" fill="#1c1c1c" stroke="#1c1c1c" stroke-width="1.8" stroke-linejoin="round">120</text>
<polyline points="639.70,109.80 656.40,93.20 673.20,84.00 689.90,66.50 706.80,61.70 723.60,54.60 740.30,46.70 757.40,42.30 774.30,36.20 791.00,28.70" fill="none" stroke="#ea5a55" stroke-width="1.0" stroke-linejoin="round"/>
<circle cx="639.70" cy="109.80" r="1.0" fill="#c8202a"/>
<circle cx="656.40" cy="93.20" r="1.0" fill="#c8202a"/>
<circle cx="673.20" cy="84.00" r="1.0" fill="#c8202a"/>
<circle cx="689.90" cy="66.50" r="1.0" fill="#c8202a"/>
<circle cx="706.80" cy="61.70" r="1.0" fill="#c8202a"/>
<circle cx="723.60" cy="54.60" r="1.0" fill="#c8202a"/>
<circle cx="740.30" cy="46.70" r="1.0" fill="#c8202a"/>
<circle cx="757.40" cy="42.30" r="1.0" fill="#c8202a"/>
<circle cx="774.30" cy="36.20" r="1.0" fill="#c8202a"/>
<circle cx="791.00" cy="28.70" r="1.0" fill="#c8202a"/>
<rect x="634.6" y="26.2" width="93.6" height="9.6" fill="#fff" stroke="#c8c8c8" stroke-width="0.5"/>
<line x1="636.1" y1="31.0" x2="648.6" y2="31.0" stroke="#ea5a55" stroke-width="0.9" opacity="0.6"/>
<circle cx="642.4" cy="31.0" r="0.9" fill="#c8202a" opacity="0.8"/>
<text transform="translate(651.60,32.45) scale(0.1060,0.1000)" font-size="40.0" text-anchor="start" font-weight="bold" fill="#111" stroke="#111" stroke-width="0.7" stroke-linejoin="round">Etch cycle/passivation cycle = 1.3X</text>
<text transform="translate(723.60,129.20) scale(0.1060,0.1000)" font-size="64.5" text-anchor="middle" font-weight="bold" fill="#1c1c1c" stroke="#1c1c1c" stroke-width="2.2" stroke-linejoin="round">CD Size (µm)</text>
<text transform="translate(614.20,70.50) rotate(-90) scale(0.1060,0.1000)" font-size="64.5" text-anchor="middle" font-weight="bold" fill="#1c1c1c" stroke="#1c1c1c" stroke-width="2.2" stroke-linejoin="round">Depth (µm)</text>
<rect x="435.4" y="162.2" width="172.70" height="94.00" fill="#fff" stroke="#222" stroke-width="1"/>
<text transform="translate(519.50,146.30) scale(0.1061,0.1000)" font-size="80.0" text-anchor="middle" font-weight="bold" fill="#1c1c1c" stroke="#1c1c1c" stroke-width="2.2" stroke-linejoin="round">Depth vs. CD size (etch cycle/passivation</text>
<text transform="translate(519.50,156.40) scale(0.1061,0.1000)" font-size="80.0" text-anchor="middle" font-weight="bold" fill="#1c1c1c" stroke="#1c1c1c" stroke-width="2.2" stroke-linejoin="round">cycle = 1.875X)</text>
<line x1="460.60" y1="256.2" x2="460.60" y2="254.79999999999998" stroke="#222" stroke-width="0.45" opacity="0.7"/>
<line x1="460.60" y1="162.2" x2="460.60" y2="163.6" stroke="#222" stroke-width="0.45" opacity="0.5"/>
<text transform="translate(460.60,263.20) scale(0.1060,0.1000)" font-size="64.5" text-anchor="middle" fill="#1c1c1c" stroke="#1c1c1c" stroke-width="1.8" stroke-linejoin="round">10</text>
<line x1="495.30" y1="256.2" x2="495.30" y2="254.79999999999998" stroke="#222" stroke-width="0.45" opacity="0.7"/>
<line x1="495.30" y1="162.2" x2="495.30" y2="163.6" stroke="#222" stroke-width="0.45" opacity="0.5"/>
<text transform="translate(495.30,263.20) scale(0.1060,0.1000)" font-size="64.5" text-anchor="middle" fill="#1c1c1c" stroke="#1c1c1c" stroke-width="1.8" stroke-linejoin="round">20</text>
<line x1="530.00" y1="256.2" x2="530.00" y2="254.79999999999998" stroke="#222" stroke-width="0.45" opacity="0.7"/>
<line x1="530.00" y1="162.2" x2="530.00" y2="163.6" stroke="#222" stroke-width="0.45" opacity="0.5"/>
<text transform="translate(530.00,263.20) scale(0.1060,0.1000)" font-size="64.5" text-anchor="middle" fill="#1c1c1c" stroke="#1c1c1c" stroke-width="1.8" stroke-linejoin="round">30</text>
<line x1="564.70" y1="256.2" x2="564.70" y2="254.79999999999998" stroke="#222" stroke-width="0.45" opacity="0.7"/>
<line x1="564.70" y1="162.2" x2="564.70" y2="163.6" stroke="#222" stroke-width="0.45" opacity="0.5"/>
<text transform="translate(564.70,263.20) scale(0.1060,0.1000)" font-size="64.5" text-anchor="middle" fill="#1c1c1c" stroke="#1c1c1c" stroke-width="1.8" stroke-linejoin="round">40</text>
<line x1="599.50" y1="256.2" x2="599.50" y2="254.79999999999998" stroke="#222" stroke-width="0.45" opacity="0.7"/>
<line x1="599.50" y1="162.2" x2="599.50" y2="163.6" stroke="#222" stroke-width="0.45" opacity="0.5"/>
<text transform="translate(599.50,263.20) scale(0.1060,0.1000)" font-size="64.5" text-anchor="middle" fill="#1c1c1c" stroke="#1c1c1c" stroke-width="1.8" stroke-linejoin="round">50</text>
<line x1="435.4" y1="245.30" x2="437.0" y2="245.30" stroke="#222" stroke-width="0.5"/>
<line x1="608.1" y1="245.30" x2="606.5" y2="245.30" stroke="#222" stroke-width="0.5"/>
<text transform="translate(433.00,246.70) scale(0.1060,0.1000)" font-size="64.5" text-anchor="end" fill="#1c1c1c" stroke="#1c1c1c" stroke-width="1.8" stroke-linejoin="round">140</text>
<line x1="435.4" y1="233.50" x2="437.0" y2="233.50" stroke="#222" stroke-width="0.5"/>
<line x1="608.1" y1="233.50" x2="606.5" y2="233.50" stroke="#222" stroke-width="0.5"/>
<text transform="translate(433.00,234.90) scale(0.1060,0.1000)" font-size="64.5" text-anchor="end" fill="#1c1c1c" stroke="#1c1c1c" stroke-width="1.8" stroke-linejoin="round">160</text>
<line x1="435.4" y1="221.70" x2="437.0" y2="221.70" stroke="#222" stroke-width="0.5"/>
<line x1="608.1" y1="221.70" x2="606.5" y2="221.70" stroke="#222" stroke-width="0.5"/>
<text transform="translate(433.00,223.10) scale(0.1060,0.1000)" font-size="64.5" text-anchor="end" fill="#1c1c1c" stroke="#1c1c1c" stroke-width="1.8" stroke-linejoin="round">180</text>
<line x1="435.4" y1="210.00" x2="437.0" y2="210.00" stroke="#222" stroke-width="0.5"/>
<line x1="608.1" y1="210.00" x2="606.5" y2="210.00" stroke="#222" stroke-width="0.5"/>
<text transform="translate(433.00,211.40) scale(0.1060,0.1000)" font-size="64.5" text-anchor="end" fill="#1c1c1c" stroke="#1c1c1c" stroke-width="1.8" stroke-linejoin="round">200</text>
<line x1="435.4" y1="198.20" x2="437.0" y2="198.20" stroke="#222" stroke-width="0.5"/>
<line x1="608.1" y1="198.20" x2="606.5" y2="198.20" stroke="#222" stroke-width="0.5"/>
<text transform="translate(433.00,199.60) scale(0.1060,0.1000)" font-size="64.5" text-anchor="end" fill="#1c1c1c" stroke="#1c1c1c" stroke-width="1.8" stroke-linejoin="round">220</text>
<line x1="435.4" y1="186.40" x2="437.0" y2="186.40" stroke="#222" stroke-width="0.5"/>
<line x1="608.1" y1="186.40" x2="606.5" y2="186.40" stroke="#222" stroke-width="0.5"/>
<text transform="translate(433.00,187.80) scale(0.1060,0.1000)" font-size="64.5" text-anchor="end" fill="#1c1c1c" stroke="#1c1c1c" stroke-width="1.8" stroke-linejoin="round">240</text>
<line x1="435.4" y1="174.50" x2="437.0" y2="174.50" stroke="#222" stroke-width="0.5"/>
<line x1="608.1" y1="174.50" x2="606.5" y2="174.50" stroke="#222" stroke-width="0.5"/>
<text transform="translate(433.00,175.90) scale(0.1060,0.1000)" font-size="64.5" text-anchor="end" fill="#1c1c1c" stroke="#1c1c1c" stroke-width="1.8" stroke-linejoin="round">260</text>
<line x1="435.4" y1="162.60" x2="437.0" y2="162.60" stroke="#222" stroke-width="0.5"/>
<line x1="608.1" y1="162.60" x2="606.5" y2="162.60" stroke="#222" stroke-width="0.5"/>
<text transform="translate(433.00,164.00) scale(0.1060,0.1000)" font-size="64.5" text-anchor="end" fill="#1c1c1c" stroke="#1c1c1c" stroke-width="1.8" stroke-linejoin="round">280</text>
<polyline points="443.30,251.90 460.50,243.80 477.90,217.90 495.50,211.70 512.80,201.50 530.50,197.40 547.60,193.10 564.80,186.40 582.60,175.90 599.50,166.60" fill="none" stroke="#7cc66d" stroke-width="1.0" stroke-linejoin="round"/>
<circle cx="443.30" cy="251.90" r="1.0" fill="#3f9a3a"/>
<circle cx="460.50" cy="243.80" r="1.0" fill="#3f9a3a"/>
<circle cx="477.90" cy="217.90" r="1.0" fill="#3f9a3a"/>
<circle cx="495.50" cy="211.70" r="1.0" fill="#3f9a3a"/>
<circle cx="512.80" cy="201.50" r="1.0" fill="#3f9a3a"/>
<circle cx="530.50" cy="197.40" r="1.0" fill="#3f9a3a"/>
<circle cx="547.60" cy="193.10" r="1.0" fill="#3f9a3a"/>
<circle cx="564.80" cy="186.40" r="1.0" fill="#3f9a3a"/>
<circle cx="582.60" cy="175.90" r="1.0" fill="#3f9a3a"/>
<circle cx="599.50" cy="166.60" r="1.0" fill="#3f9a3a"/>
<rect x="437.6" y="164.2" width="104" height="10.4" fill="#fff" stroke="#c8c8c8" stroke-width="0.5"/>
<line x1="439.1" y1="169.39999999999998" x2="451.6" y2="169.39999999999998" stroke="#7cc66d" stroke-width="0.9" opacity="0.6"/>
<circle cx="445.40000000000003" cy="169.39999999999998" r="0.9" fill="#3f9a3a" opacity="0.8"/>
<text transform="translate(454.60,170.85) scale(0.1060,0.1000)" font-size="40.0" text-anchor="start" font-weight="bold" fill="#111" stroke="#111" stroke-width="0.7" stroke-linejoin="round">Etch cycle/passivation cycle = 1.875X</text>
<text transform="translate(530.00,272.00) scale(0.1060,0.1000)" font-size="64.5" text-anchor="middle" font-weight="bold" fill="#1c1c1c" stroke="#1c1c1c" stroke-width="2.2" stroke-linejoin="round">CD Size (µm)</text>
<text transform="translate(416.20,205.00) rotate(-90) scale(0.1060,0.1000)" font-size="64.5" text-anchor="middle" font-weight="bold" fill="#1c1c1c" stroke="#1c1c1c" stroke-width="2.2" stroke-linejoin="round">Depth (µm)</text>
</g>
<defs>
<linearGradient id="pil1" x1="0" x2="1" y1="0" y2="0"><stop offset="0" stop-color="#7a7a7a"/><stop offset="0.5" stop-color="#909090"/><stop offset="1" stop-color="#808080"/></linearGradient>
<linearGradient id="pil2" x1="0" x2="1" y1="0" y2="0"><stop offset="0" stop-color="#bcbcbc"/><stop offset="0.3" stop-color="#8c8c8c"/><stop offset="1" stop-color="#5c5c5c"/></linearGradient>
<linearGradient id="fadeV" x1="0" x2="0" y1="0" y2="1"><stop offset="0" stop-color="#888" stop-opacity="0.9"/><stop offset="1" stop-color="#444" stop-opacity="0.4"/></linearGradient>
<clipPath id="cS1"><rect x="628.2" y="155.3" width="80.9" height="50.4"/></clipPath>
<clipPath id="cS2"><rect x="713.2" y="155.2" width="76.8" height="50.8"/></clipPath>
<clipPath id="cS3"><rect x="628.1" y="213.7" width="80.9" height="56.1"/></clipPath>
<clipPath id="cS4"><rect x="713.4" y="214.8" width="76.1" height="55.0"/></clipPath>
</defs>
<g clip-path="url(#cS1)"><g filter="url(#bl2)">
<rect x="626" y="153" width="86" height="56" fill="#616161"/>
<rect x="626" y="153" width="86" height="7.6" fill="#262626"/>
<rect x="626" y="160.5" width="86" height="26.5" fill="#7d7d7d"/>
<rect x="633.20" y="161.5" width="3.3" height="25.8" fill="#1c1c1c"/>
<rect x="642.20" y="161.5" width="3.3" height="25.8" fill="#1c1c1c"/>
<rect x="651.20" y="161.5" width="3.3" height="25.8" fill="#1c1c1c"/>
<rect x="660.20" y="161.5" width="3.3" height="25.8" fill="#1c1c1c"/>
<rect x="669.20" y="161.5" width="3.3" height="25.8" fill="#1c1c1c"/>
<rect x="678.20" y="161.5" width="3.3" height="25.8" fill="#1c1c1c"/>
<rect x="687.20" y="161.5" width="3.3" height="25.8" fill="#1c1c1c"/>
<rect x="696.20" y="161.5" width="3.3" height="25.8" fill="#1c1c1c"/>
<rect x="705.20" y="161.5" width="3.3" height="25.8" fill="#1c1c1c"/>
<rect x="626" y="187.2" width="86" height="4" fill="#6a6a6a"/>
<rect x="629" y="203" width="24" height="1.2" fill="#a0a0a0" opacity="0.7"/><rect x="700" y="203" width="6" height="1.2" fill="#999" opacity="0.7"/>
</g></g>
<g clip-path="url(#cS2)"><g filter="url(#bl2)">
<rect x="711" y="153" width="82" height="56" fill="#757575"/>
<rect x="711" y="153" width="82" height="16" fill="#2b2b2b"/>
<rect x="711" y="168.8" width="82" height="26.6" fill="#2a2a2a"/>
<rect x="708.90" y="169.3" width="4.9" height="26.2" fill="url(#pil2)"/>
<rect x="716.15" y="169.3" width="4.9" height="26.2" fill="url(#pil2)"/>
<rect x="723.40" y="169.3" width="4.9" height="26.2" fill="url(#pil2)"/>
<rect x="730.65" y="169.3" width="4.9" height="26.2" fill="url(#pil2)"/>
<rect x="737.90" y="169.3" width="4.9" height="26.2" fill="url(#pil2)"/>
<rect x="745.15" y="169.3" width="4.9" height="26.2" fill="url(#pil2)"/>
<rect x="752.40" y="169.3" width="4.9" height="26.2" fill="url(#pil2)"/>
<rect x="759.65" y="169.3" width="4.9" height="26.2" fill="url(#pil2)"/>
<rect x="766.90" y="169.3" width="4.9" height="26.2" fill="url(#pil2)"/>
<rect x="774.15" y="169.3" width="4.9" height="26.2" fill="url(#pil2)"/>
<rect x="781.40" y="169.3" width="4.9" height="26.2" fill="url(#pil2)"/>
<rect x="714.5" y="203.8" width="24" height="1.2" fill="#a8a8a8" opacity="0.7"/><rect x="782" y="203.8" width="6" height="1.2" fill="#a0a0a0" opacity="0.7"/>
</g></g>
<g clip-path="url(#cS3)"><g filter="url(#bl2)">
<rect x="626" y="211" width="86" height="62" fill="#474747"/>
<rect x="626" y="219.5" width="86" height="40.5" fill="#262626"/>
<rect x="626" y="211" width="86" height="8" fill="#6a6a6a"/>
<rect x="655" y="213" width="40" height="4" fill="#828282"/>
<ellipse cx="657" cy="216.5" rx="3" ry="2" fill="#d8d8d8" opacity="0.8"/><ellipse cx="677" cy="216" rx="2.5" ry="2.2" fill="#e0e0e0" opacity="0.8"/><ellipse cx="690.5" cy="215.5" rx="2" ry="2.4" fill="#dcdcdc" opacity="0.75"/><ellipse cx="683" cy="222.5" rx="5" ry="1.6" fill="#9a9a9a" opacity="0.7"/>
<rect x="626" y="221" width="21" height="42" fill="#111" opacity="0.45"/>
<rect x="637" y="240" width="5.5" height="1.2" fill="#888" opacity="0.8"/>
<rect x="630.50" y="219" width="1.5" height="42" fill="url(#fadeV)"/>
<rect x="635.20" y="219" width="1.5" height="42" fill="url(#fadeV)"/>
<rect x="639.90" y="219" width="1.5" height="42" fill="url(#fadeV)"/>
<rect x="644.60" y="219" width="1.5" height="42" fill="url(#fadeV)"/>
<rect x="649.30" y="219" width="1.5" height="38" fill="url(#fadeV)"/>
<rect x="654.00" y="219" width="1.5" height="38" fill="url(#fadeV)"/>
<rect x="658.70" y="219" width="1.5" height="38" fill="url(#fadeV)"/>
<rect x="663.40" y="219" width="1.5" height="38" fill="url(#fadeV)"/>
<rect x="668.10" y="219" width="1.5" height="38" fill="url(#fadeV)"/>
<rect x="672.80" y="219" width="1.5" height="38" fill="url(#fadeV)"/>
<rect x="677.50" y="219" width="1.5" height="38" fill="url(#fadeV)"/>
<rect x="682.20" y="219" width="1.5" height="38" fill="url(#fadeV)"/>
<rect x="686.90" y="219" width="1.5" height="38" fill="url(#fadeV)"/>
<rect x="691.60" y="219" width="1.5" height="38" fill="url(#fadeV)"/>
<rect x="696.30" y="219" width="1.5" height="34" fill="url(#fadeV)"/>
<rect x="701.00" y="219" width="1.5" height="34" fill="url(#fadeV)"/>
<rect x="705.70" y="219" width="1.5" height="34" fill="url(#fadeV)"/>
<rect x="710.40" y="219" width="1.5" height="34" fill="url(#fadeV)"/>
<rect x="626" y="262" width="24" height="10" fill="#444"/>
<rect x="650" y="259.6" width="46" height="12" fill="#484848"/>
<rect x="696" y="255.5" width="16" height="16" fill="#4a4a4a"/>
<rect x="629" y="267.3" width="28" height="1.2" fill="#c0c0c0" opacity="0.7"/><rect x="700" y="267.3" width="6" height="1.2" fill="#bbb" opacity="0.7"/>
</g></g>
<g clip-path="url(#cS4)"><g filter="url(#bl2)">
<rect x="711" y="212" width="82" height="60" fill="#4e4e4e"/>
<rect x="711" y="218.5" width="82" height="41" fill="#2e2e2e"/>
<rect x="711" y="212" width="82" height="6.5" fill="#6a6a6a"/>
<rect x="729.10" y="218" width="4.4" height="42" fill="#808080"/>
<rect x="738.30" y="218" width="4.4" height="42" fill="#808080"/>
<rect x="747.70" y="218" width="4.4" height="42" fill="#808080"/>
<rect x="756.30" y="218" width="4.4" height="42" fill="#808080"/>
<rect x="765.80" y="218" width="4.4" height="42" fill="#808080"/>
<rect x="776.30" y="218" width="4.4" height="42" fill="#808080"/>
<rect x="787.10" y="218" width="4.4" height="42" fill="#808080"/>
<rect x="719.30" y="218" width="4.4" height="42" fill="#808080"/>
<rect x="713.4" y="217" width="3" height="45" fill="#6a6a6a"/>
<rect x="739.6" y="224" width="1.4" height="30" fill="#b8b8b8" opacity="0.4"/><rect x="748.8" y="222" width="1.6" height="34" fill="#c0c0c0" opacity="0.4"/><path d="M757 252 l2.2 6 M767 250 l2 6" stroke="#d0d0d0" stroke-width="1.2" opacity="0.55"/>
<ellipse cx="733" cy="218" rx="5" ry="1.8" fill="#c8c8c8" opacity="0.7"/><ellipse cx="781" cy="219.5" rx="4" ry="1.6" fill="#d0d0d0" opacity="0.7"/>
<rect x="711" y="259.5" width="82" height="12" fill="#555"/>
<path d="M776 260 L789 270 L792 270 L783 259 Z" fill="#aaa"/>
<rect x="715" y="267.3" width="24" height="1.2" fill="#b0b0b0" opacity="0.7"/>
</g></g>
<g id="panelC">
<clipPath id="cc"><rect x="22.4" y="224.2" width="131.2" height="131.3"/></clipPath>
<g clip-path="url(#cc)">
<rect x="22.4" y="224.2" width="131.2" height="131.3" fill="#a6d96a"/>
<polygon fill="#ffffbf" points="22,339.9 56.3,334.2 72.2,322.9 88.2,305.9 95.8,300 103.3,294.5 113.2,287.9 126.6,278.7 139.9,268.7 154,257.9 154,220 22,220"/>
<polygon fill="#fdae61" points="22,305.9 55.2,290 60,286.2 70,279.6 83.3,271.2 93.3,264.6 106.6,256.3 116.6,247.1 126.6,236.3 136.5,224.3 136.5,220 22,220"/>
<polygon fill="#d73027" points="22,257 56.1,240.9 60,234.6 70.8,224.3 70.8,220 22,220"/>
<polygon fill="#1a9850" points="88.2,356 121.1,322.9 154,301.7 154,356"/>
</g>
<g filter="url(#bl)">
<text transform="translate(47.00,246.20) scale(0.1060,0.1000)" font-size="42.0" text-anchor="middle" fill="#111" stroke="#111" stroke-width="0.7" stroke-linejoin="round">93</text>
<text transform="translate(85.80,272.40) scale(0.1060,0.1000)" font-size="42.0" text-anchor="middle" fill="#111" stroke="#111" stroke-width="0.7" stroke-linejoin="round">90</text>
<text transform="translate(102.10,295.70) scale(0.1060,0.1000)" font-size="42.0" text-anchor="middle" fill="#111" stroke="#111" stroke-width="0.7" stroke-linejoin="round">87</text>
<text transform="translate(124.40,323.80) scale(0.1060,0.1000)" font-size="42.0" text-anchor="middle" fill="#111" stroke="#111" stroke-width="0.7" stroke-linejoin="round">84</text>
<text transform="translate(95.00,207.50) scale(0.1065,0.1000)" font-size="80.0" text-anchor="middle" font-weight="bold" fill="#1c1c1c" stroke="#1c1c1c" stroke-width="2.2" stroke-linejoin="round">Variation of profile angle with etch</text>
<text transform="translate(95.00,217.50) scale(0.1065,0.1000)" font-size="80.0" text-anchor="middle" font-weight="bold" fill="#1c1c1c" stroke="#1c1c1c" stroke-width="2.2" stroke-linejoin="round">&amp; passivation cycle times</text>
<text transform="translate(1.00,214.40) scale(0.1000,0.1000)" font-size="166.0" text-anchor="start" font-weight="bold" fill="#000" stroke="#000" stroke-width="2.2" stroke-linejoin="round">c</text>
<text transform="translate(22.60,364.20) scale(0.1060,0.1000)" font-size="52.0" text-anchor="middle" fill="#1c1c1c" stroke="#1c1c1c" stroke-width="1.2" stroke-linejoin="round">4.0</text>
<text transform="translate(19.30,226.00) scale(0.1060,0.1000)" font-size="52.0" text-anchor="end" fill="#1c1c1c" stroke="#1c1c1c" stroke-width="1.2" stroke-linejoin="round">6.0</text>
<text transform="translate(38.95,364.20) scale(0.1060,0.1000)" font-size="52.0" text-anchor="middle" fill="#1c1c1c" stroke="#1c1c1c" stroke-width="1.2" stroke-linejoin="round">4.5</text>
<text transform="translate(19.30,242.41) scale(0.1060,0.1000)" font-size="52.0" text-anchor="end" fill="#1c1c1c" stroke="#1c1c1c" stroke-width="1.2" stroke-linejoin="round">5.5</text>
<text transform="translate(55.30,364.20) scale(0.1060,0.1000)" font-size="52.0" text-anchor="middle" fill="#1c1c1c" stroke="#1c1c1c" stroke-width="1.2" stroke-linejoin="round">5.0</text>
<text transform="translate(19.30,258.82) scale(0.1060,0.1000)" font-size="52.0" text-anchor="end" fill="#1c1c1c" stroke="#1c1c1c" stroke-width="1.2" stroke-linejoin="round">5.0</text>
<text transform="translate(71.65,364.20) scale(0.1060,0.1000)" font-size="52.0" text-anchor="middle" fill="#1c1c1c" stroke="#1c1c1c" stroke-width="1.2" stroke-linejoin="round">5.5</text>
<text transform="translate(19.30,275.23) scale(0.1060,0.1000)" font-size="52.0" text-anchor="end" fill="#1c1c1c" stroke="#1c1c1c" stroke-width="1.2" stroke-linejoin="round">4.5</text>
<text transform="translate(88.00,364.20) scale(0.1060,0.1000)" font-size="52.0" text-anchor="middle" fill="#1c1c1c" stroke="#1c1c1c" stroke-width="1.2" stroke-linejoin="round">6.0</text>
<text transform="translate(19.30,291.64) scale(0.1060,0.1000)" font-size="52.0" text-anchor="end" fill="#1c1c1c" stroke="#1c1c1c" stroke-width="1.2" stroke-linejoin="round">4.0</text>
<text transform="translate(104.35,364.20) scale(0.1060,0.1000)" font-size="52.0" text-anchor="middle" fill="#1c1c1c" stroke="#1c1c1c" stroke-width="1.2" stroke-linejoin="round">6.5</text>
<text transform="translate(19.30,308.05) scale(0.1060,0.1000)" font-size="52.0" text-anchor="end" fill="#1c1c1c" stroke="#1c1c1c" stroke-width="1.2" stroke-linejoin="round">3.5</text>
<text transform="translate(120.70,364.20) scale(0.1060,0.1000)" font-size="52.0" text-anchor="middle" fill="#1c1c1c" stroke="#1c1c1c" stroke-width="1.2" stroke-linejoin="round">7.0</text>
<text transform="translate(19.30,324.46) scale(0.1060,0.1000)" font-size="52.0" text-anchor="end" fill="#1c1c1c" stroke="#1c1c1c" stroke-width="1.2" stroke-linejoin="round">3.0</text>
<text transform="translate(137.05,364.20) scale(0.1060,0.1000)" font-size="52.0" text-anchor="middle" fill="#1c1c1c" stroke="#1c1c1c" stroke-width="1.2" stroke-linejoin="round">7.5</text>
<text transform="translate(19.30,340.87) scale(0.1060,0.1000)" font-size="52.0" text-anchor="end" fill="#1c1c1c" stroke="#1c1c1c" stroke-width="1.2" stroke-linejoin="round">2.5</text>
<text transform="translate(153.40,364.20) scale(0.1060,0.1000)" font-size="52.0" text-anchor="middle" fill="#1c1c1c" stroke="#1c1c1c" stroke-width="1.2" stroke-linejoin="round">8.0</text>
<text transform="translate(19.30,357.28) scale(0.1060,0.1000)" font-size="52.0" text-anchor="end" fill="#1c1c1c" stroke="#1c1c1c" stroke-width="1.2" stroke-linejoin="round">2.0</text>
<text transform="translate(88.50,372.80) scale(0.1060,0.1000)" font-size="64.5" text-anchor="middle" font-weight="bold" fill="#1c1c1c" stroke="#1c1c1c" stroke-width="2.2" stroke-linejoin="round">Etch time (s)</text>
<text transform="translate(6.10,290.30) rotate(-90) scale(0.1060,0.1000)" font-size="64.5" text-anchor="middle" font-weight="bold" fill="#1c1c1c" stroke="#1c1c1c" stroke-width="2.2" stroke-linejoin="round">Passivation time (s)</text>
</g>
<g filter="url(#bl)">
<rect x="191.3" y="229.7" width="184.70" height="119.50" fill="#fff" stroke="#222" stroke-width="1"/>
<text transform="translate(287.40,207.80) scale(0.1061,0.1000)" font-size="80.0" text-anchor="middle" font-weight="bold" fill="#1c1c1c" stroke="#1c1c1c" stroke-width="2.2" stroke-linejoin="round">Percentage deviation from 90° vs.</text>
<text transform="translate(287.40,218.00) scale(0.1061,0.1000)" font-size="80.0" text-anchor="middle" font-weight="bold" fill="#1c1c1c" stroke="#1c1c1c" stroke-width="2.2" stroke-linejoin="round">etch/passivation ratio</text>
<line x1="191.3" y1="229.40" x2="192.9" y2="229.40" stroke="#222" stroke-width="0.5"/>
<line x1="376.0" y1="229.40" x2="374.4" y2="229.40" stroke="#222" stroke-width="0.5"/>
<text transform="translate(188.40,231.40) scale(0.1060,0.1000)" font-size="58.5" text-anchor="end" fill="#1c1c1c" stroke="#1c1c1c" stroke-width="1.2" stroke-linejoin="round">10.0</text>
<line x1="191.3" y1="244.36" x2="192.9" y2="244.36" stroke="#222" stroke-width="0.5"/>
<line x1="376.0" y1="244.36" x2="374.4" y2="244.36" stroke="#222" stroke-width="0.5"/>
<text transform="translate(188.40,246.36) scale(0.1060,0.1000)" font-size="58.5" text-anchor="end" fill="#1c1c1c" stroke="#1c1c1c" stroke-width="1.2" stroke-linejoin="round">7.5</text>
<line x1="191.3" y1="259.32" x2="192.9" y2="259.32" stroke="#222" stroke-width="0.5"/>
<line x1="376.0" y1="259.32" x2="374.4" y2="259.32" stroke="#222" stroke-width="0.5"/>
<text transform="translate(188.40,261.32) scale(0.1060,0.1000)" font-size="58.5" text-anchor="end" fill="#1c1c1c" stroke="#1c1c1c" stroke-width="1.2" stroke-linejoin="round">5.0</text>
<line x1="191.3" y1="274.28" x2="192.9" y2="274.28" stroke="#222" stroke-width="0.5"/>
<line x1="376.0" y1="274.28" x2="374.4" y2="274.28" stroke="#222" stroke-width="0.5"/>
<text transform="translate(188.40,276.28) scale(0.1060,0.1000)" font-size="58.5" text-anchor="end" fill="#1c1c1c" stroke="#1c1c1c" stroke-width="1.2" stroke-linejoin="round">2.5</text>
<line x1="191.3" y1="289.24" x2="192.9" y2="289.24" stroke="#222" stroke-width="0.5"/>
<line x1="376.0" y1="289.24" x2="374.4" y2="289.24" stroke="#222" stroke-width="0.5"/>
<text transform="translate(188.40,291.24) scale(0.1060,0.1000)" font-size="58.5" text-anchor="end" fill="#1c1c1c" stroke="#1c1c1c" stroke-width="1.2" stroke-linejoin="round">0.0</text>
<line x1="191.3" y1="304.20" x2="192.9" y2="304.20" stroke="#222" stroke-width="0.5"/>
<line x1="376.0" y1="304.20" x2="374.4" y2="304.20" stroke="#222" stroke-width="0.5"/>
<text transform="translate(188.40,306.20) scale(0.1060,0.1000)" font-size="58.5" text-anchor="end" fill="#1c1c1c" stroke="#1c1c1c" stroke-width="1.2" stroke-linejoin="round">−2.5</text>
<line x1="191.3" y1="319.16" x2="192.9" y2="319.16" stroke="#222" stroke-width="0.5"/>
<line x1="376.0" y1="319.16" x2="374.4" y2="319.16" stroke="#222" stroke-width="0.5"/>
<text transform="translate(188.40,321.16) scale(0.1060,0.1000)" font-size="58.5" text-anchor="end" fill="#1c1c1c" stroke="#1c1c1c" stroke-width="1.2" stroke-linejoin="round">−5.0</text>
<line x1="191.3" y1="334.12" x2="192.9" y2="334.12" stroke="#222" stroke-width="0.5"/>
<line x1="376.0" y1="334.12" x2="374.4" y2="334.12" stroke="#222" stroke-width="0.5"/>
<text transform="translate(188.40,336.12) scale(0.1060,0.1000)" font-size="58.5" text-anchor="end" fill="#1c1c1c" stroke="#1c1c1c" stroke-width="1.2" stroke-linejoin="round">−7.5</text>
<line x1="191.3" y1="349.08" x2="192.9" y2="349.08" stroke="#222" stroke-width="0.5"/>
<line x1="376.0" y1="349.08" x2="374.4" y2="349.08" stroke="#222" stroke-width="0.5"/>
<text transform="translate(188.40,351.08) scale(0.1060,0.1000)" font-size="58.5" text-anchor="end" fill="#1c1c1c" stroke="#1c1c1c" stroke-width="1.2" stroke-linejoin="round">−10.0</text>
<line x1="192.00" y1="349.2" x2="192.00" y2="347.59999999999997" stroke="#222" stroke-width="0.5"/>
<text transform="translate(192.00,357.30) scale(0.1060,0.1000)" font-size="58.5" text-anchor="middle" fill="#1c1c1c" stroke="#1c1c1c" stroke-width="1.2" stroke-linejoin="round">1.0</text>
<line x1="221.30" y1="349.2" x2="221.30" y2="347.59999999999997" stroke="#222" stroke-width="0.5"/>
<text transform="translate(221.30,357.30) scale(0.1060,0.1000)" font-size="58.5" text-anchor="middle" fill="#1c1c1c" stroke="#1c1c1c" stroke-width="1.2" stroke-linejoin="round">1.5</text>
<line x1="250.60" y1="349.2" x2="250.60" y2="347.59999999999997" stroke="#222" stroke-width="0.5"/>
<text transform="translate(250.60,357.30) scale(0.1060,0.1000)" font-size="58.5" text-anchor="middle" fill="#1c1c1c" stroke="#1c1c1c" stroke-width="1.2" stroke-linejoin="round">2.0</text>
<line x1="279.90" y1="349.2" x2="279.90" y2="347.59999999999997" stroke="#222" stroke-width="0.5"/>
<text transform="translate(279.90,357.30) scale(0.1060,0.1000)" font-size="58.5" text-anchor="middle" fill="#1c1c1c" stroke="#1c1c1c" stroke-width="1.2" stroke-linejoin="round">2.5</text>
<line x1="309.20" y1="349.2" x2="309.20" y2="347.59999999999997" stroke="#222" stroke-width="0.5"/>
<text transform="translate(309.20,357.30) scale(0.1060,0.1000)" font-size="58.5" text-anchor="middle" fill="#1c1c1c" stroke="#1c1c1c" stroke-width="1.2" stroke-linejoin="round">3.0</text>
<line x1="338.50" y1="349.2" x2="338.50" y2="347.59999999999997" stroke="#222" stroke-width="0.5"/>
<text transform="translate(338.50,357.30) scale(0.1060,0.1000)" font-size="58.5" text-anchor="middle" fill="#1c1c1c" stroke="#1c1c1c" stroke-width="1.2" stroke-linejoin="round">3.5</text>
<line x1="367.80" y1="349.2" x2="367.80" y2="347.59999999999997" stroke="#222" stroke-width="0.5"/>
<text transform="translate(367.80,357.30) scale(0.1060,0.1000)" font-size="58.5" text-anchor="middle" fill="#1c1c1c" stroke="#1c1c1c" stroke-width="1.2" stroke-linejoin="round">4.0</text>
<text transform="translate(283.50,366.40) scale(0.1060,0.1000)" font-size="64.5" text-anchor="middle" font-weight="bold" fill="#1c1c1c" stroke="#1c1c1c" stroke-width="2.2" stroke-linejoin="round">Etch/passivation cycle time ratio</text>
<text transform="translate(168.30,289.00) rotate(-90) scale(0.1060,0.1000)" font-size="64.5" text-anchor="middle" font-weight="bold" fill="#1c1c1c" stroke="#1c1c1c" stroke-width="2.2" stroke-linejoin="round">Percentage deviation from 90° (%)</text>
<line x1="191.3" y1="289.2" x2="376.0" y2="289.2" stroke="#ee7a7a" stroke-width="0.9" stroke-dasharray="1.1,0.9"/>
<path d="M200.00 267.60 V284.30 M198.50 267.60 H201.50 M198.50 284.30 H201.50" stroke="#111" stroke-width="0.65" fill="none"/>
<path d="M201.60 276.00 V289.60 M200.10 276.00 H203.10 M200.10 289.60 H203.10" stroke="#aaa" stroke-width="0.65" fill="none"/>
<path d="M212.00 281.30 V297.20 M210.50 281.30 H213.50 M210.50 297.20 H213.50" stroke="#111" stroke-width="0.65" fill="none"/>
<path d="M213.40 297.00 V308.00 M211.90 297.00 H214.90 M211.90 308.00 H214.90" stroke="#444" stroke-width="0.65" fill="none"/>
<path d="M215.20 289.00 V303.00 M213.70 289.00 H216.70 M213.70 303.00 H216.70" stroke="#111" stroke-width="0.65" fill="none"/>
<path d="M217.40 289.00 V303.00 M215.90 289.00 H218.90 M215.90 303.00 H218.90" stroke="#666" stroke-width="0.65" fill="none"/>
<path d="M223.40 297.20 V308.10 M221.90 297.20 H224.90 M221.90 308.10 H224.90" stroke="#111" stroke-width="0.65" fill="none"/>
<path d="M227.20 297.20 V308.10 M225.70 297.20 H228.70 M225.70 308.10 H228.70" stroke="#111" stroke-width="0.65" fill="none"/>
<path d="M232.90 299.50 V305.90 M231.40 299.50 H234.40 M231.40 305.90 H234.40" stroke="#222" stroke-width="0.65" fill="none"/>
<path d="M240.20 307.20 V313.30 M238.70 307.20 H241.70 M238.70 313.30 H241.70" stroke="#999" stroke-width="0.65" fill="none"/>
<path d="M244.50 308.10 V323.30 M243.00 308.10 H246.00 M243.00 323.30 H246.00" stroke="#222" stroke-width="0.65" fill="none"/>
<path d="M252.20 309.00 V322.00 M250.70 309.00 H253.70 M250.70 322.00 H253.70" stroke="#111" stroke-width="0.65" fill="none"/>
<path d="M252.20 314.00 V331.40 M250.70 314.00 H253.70 M250.70 331.40 H253.70" stroke="#111" stroke-width="0.65" fill="none"/>
<path d="M275.20 316.40 V328.80 M273.70 316.40 H276.70 M273.70 328.80 H276.70" stroke="#555" stroke-width="0.65" fill="none"/>
<path d="M367.40 329.50 V342.90 M365.90 329.50 H368.90 M365.90 342.90 H368.90" stroke="#222" stroke-width="0.65" fill="none"/>
<circle cx="200.00" cy="276.00" r="0.95" fill="#7a1a28"/>
<circle cx="201.60" cy="282.60" r="0.95" fill="#7a1a28"/>
<circle cx="212.00" cy="289.20" r="0.95" fill="#7a1a28"/>
<circle cx="213.40" cy="302.60" r="0.95" fill="#7a1a28"/>
<circle cx="215.20" cy="296.00" r="0.95" fill="#7a1a28"/>
<circle cx="217.40" cy="296.00" r="0.95" fill="#7a1a28"/>
<circle cx="223.40" cy="302.60" r="0.95" fill="#7a1a28"/>
<circle cx="227.20" cy="302.60" r="0.95" fill="#7a1a28"/>
<circle cx="232.90" cy="302.60" r="0.95" fill="#7a1a28"/>
<circle cx="240.20" cy="310.30" r="0.95" fill="#7a1a28"/>
<circle cx="244.50" cy="316.20" r="0.95" fill="#7a1a28"/>
<circle cx="252.20" cy="315.00" r="0.95" fill="#7a1a28"/>
<circle cx="252.20" cy="322.80" r="0.95" fill="#7a1a28"/>
<circle cx="275.20" cy="322.80" r="0.95" fill="#7a1a28"/>
<circle cx="367.40" cy="336.80" r="0.95" fill="#7a1a28"/>
<rect x="251.3" y="310" width="1.9" height="21" fill="#222"/>
<rect x="301.3" y="232.4" width="71.6" height="18.6" fill="#fff" stroke="#d0d0d0" stroke-width="0.5"/>
<line x1="304.2" y1="237.4" x2="316" y2="237.4" stroke="#ee7a7a" stroke-width="0.9" stroke-dasharray="1.1,0.9"/>
<path d="M310.2 243.2 V248.8 M309 243.2 H311.4 M309 248.8 H311.4" stroke="#111" stroke-width="0.7" fill="none"/><circle cx="310.2" cy="246" r="0.8" fill="#111"/>
<text transform="translate(319.80,239.30) scale(0.1060,0.1000)" font-size="48.0" text-anchor="start" font-weight="bold" fill="#111" stroke="#111" stroke-width="0.7" stroke-linejoin="round">90° Reference</text>
<text transform="translate(319.80,247.90) scale(0.1060,0.1000)" font-size="48.0" text-anchor="start" font-weight="bold" fill="#111" stroke="#111" stroke-width="0.7" stroke-linejoin="round">Deviation from 90°</text>
</g>
</g>
<clipPath id="ci1"><rect x="2.9" y="384.7" width="123.9" height="89.8"/></clipPath>
<g clip-path="url(#ci1)"><g filter="url(#bl)">
<rect x="0" y="382" width="130" height="95" fill="#887f7f"/>
<rect x="68.7" y="382" width="11.6" height="92" fill="#98a09b"/>
<rect x="60" y="384.7" width="24" height="3.2" fill="#a8a4a2" opacity="0.8"/>
<path d="M66.6 471.2 L121.4 471.2 M66.6 471.2 L120.6 463.8 M66.6 471.2 L118.1 456.6 M66.6 471.2 L114.1 449.9 M66.6 471.2 L108.6 443.8 M66.6 471.2 L101.8 438.6 M66.6 471.2 L94.0 434.3 M66.6 471.2 L85.3 431.2 M66.6 471.2 L76.1 429.3 M66.6 471.2 L66.6 428.6 M66.6 471.2 L57.1 429.3 M66.6 471.2 L47.9 431.2 M66.6 471.2 L39.2 434.3 M66.6 471.2 L31.4 438.6 M66.6 471.2 L24.6 443.8 M66.6 471.2 L19.1 449.9 M66.6 471.2 L15.1 456.6 M66.6 471.2 L12.6 463.8 M66.6 471.2 L11.8 471.2" stroke="#3a3838" stroke-width="0.35" fill="none" opacity="0.45"/>
<path d="M10.1 471.2 A56.5 43.9 0 0 1 123.1 471.2" stroke="#2c2a2a" stroke-width="2.6" fill="none" stroke-dasharray="2.2,3.6" opacity="0.55"/>
<path d="M7.9 471.2 A58.7 46.1 0 0 1 125.3 471.2" stroke="#3a3838" stroke-width="0.5" fill="none" opacity="0.8"/>
<path d="M22.6 471.2 A44.0 36.0 0 0 1 110.6 471.2" stroke="#7468c4" stroke-width="3.2" fill="none" opacity="0.6"/>
<path d="M22.6 471.2 A44.0 36.0 0 0 1 110.6 471.2" stroke="#4a3fa0" stroke-width="2.0" fill="none" stroke-dasharray="1.5,4.2" opacity="0.45"/>
<rect x="64.5" y="382" width="4.2" height="92" fill="#c2545e"/>
<rect x="64.5" y="471.6" width="15.8" height="2.6" fill="#c43c46"/>
<circle cx="67.3" cy="471.0" r="1.5" fill="#fff"/>
<circle cx="123.0" cy="470.9" r="1.3" fill="#f2e27a"/>
<text transform="translate(5.30,394.30) scale(0.1057,0.1000)" font-size="80.0" text-anchor="start" fill="#ecebe8" stroke="#ecebe8" stroke-width="1.8" stroke-linejoin="round">Name: profile angles</text>
<text transform="translate(5.30,404.70) scale(0.1057,0.1000)" font-size="80.0" text-anchor="start" fill="#ecebe8" stroke="#ecebe8" stroke-width="1.8" stroke-linejoin="round">&gt;&gt; Angles: 89</text>
<text transform="translate(5.30,415.00) scale(0.1057,0.1000)" font-size="80.0" text-anchor="start" fill="#ecebe8" stroke="#ecebe8" stroke-width="1.8" stroke-linejoin="round">Etch:7s</text>
<text transform="translate(5.30,425.70) scale(0.1057,0.1000)" font-size="80.0" text-anchor="start" fill="#ecebe8" stroke="#ecebe8" stroke-width="1.8" stroke-linejoin="round">Passivation:5.5s</text>
<text transform="translate(5.30,436.00) scale(0.1057,0.1000)" font-size="80.0" text-anchor="start" fill="#ecebe8" stroke="#ecebe8" stroke-width="1.8" stroke-linejoin="round">Ratio:1.36</text>
<text transform="translate(5.30,446.30) scale(0.1057,0.1000)" font-size="80.0" text-anchor="start" fill="#ecebe8" stroke="#ecebe8" stroke-width="1.8" stroke-linejoin="round">Normal C4F8\SF6</text>
</g></g>
<defs><linearGradient id="g2" x1="0" x2="0" y1="0" y2="1"><stop offset="0" stop-color="#e8e8e8"/><stop offset="0.35" stop-color="#8f8f8f"/><stop offset="0.7" stop-color="#4a4a4a"/><stop offset="1" stop-color="#333"/></linearGradient>
<linearGradient id="g2h" x1="0" x2="1" y1="0" y2="0"><stop offset="0" stop-color="#fff" stop-opacity="0.15"/><stop offset="0.6" stop-color="#000" stop-opacity="0"/><stop offset="1" stop-color="#000" stop-opacity="0.25"/></linearGradient></defs>
<clipPath id="ci2"><rect x="132.1" y="385.2" width="126.6" height="90.0"/></clipPath>
<g clip-path="url(#ci2)"><g filter="url(#bl)">
<rect x="130" y="382" width="132" height="96" fill="#5a5656"/>
<path d="M196.2 472.0 L245.3 472.0 M196.2 472.0 L244.5 465.0 M196.2 472.0 L242.3 458.3 M196.2 472.0 L238.7 451.9 M196.2 472.0 L233.8 446.2 M196.2 472.0 L227.7 441.2 M196.2 472.0 L220.7 437.2 M196.2 472.0 L213.0 434.3 M196.2 472.0 L204.7 432.5 M196.2 472.0 L196.2 431.8 M196.2 472.0 L187.7 432.5 M196.2 472.0 L179.4 434.3 M196.2 472.0 L171.7 437.2 M196.2 472.0 L164.7 441.2 M196.2 472.0 L158.6 446.2 M196.2 472.0 L153.7 451.9 M196.2 472.0 L150.1 458.3 M196.2 472.0 L147.9 465.0 M196.2 472.0 L147.1 472.0" stroke="#3a3838" stroke-width="0.35" fill="none" opacity="0.45"/>
<path d="M145.6 472.0 A50.6 41.4 0 0 1 246.8 472.0" stroke="#2c2a2a" stroke-width="2.6" fill="none" stroke-dasharray="2.2,3.6" opacity="0.55"/>
<path d="M143.4 472.0 A52.8 43.6 0 0 1 249.0 472.0" stroke="#3a3838" stroke-width="0.5" fill="none" opacity="0.8"/>
<path d="M152.7 472.0 A43.5 33.0 0 0 1 239.7 472.0" stroke="#7468c4" stroke-width="3.2" fill="none" opacity="0.6"/>
<path d="M152.7 472.0 A43.5 33.0 0 0 1 239.7 472.0" stroke="#4a3fa0" stroke-width="2.0" fill="none" stroke-dasharray="1.5,4.2" opacity="0.45"/>
<rect x="192.3" y="382" width="15.4" height="96" fill="url(#g2)"/>
<rect x="192.3" y="382" width="15.4" height="96" fill="url(#g2h)"/>
<rect x="190" y="385.2" width="26" height="2.6" fill="#d8d8d8" opacity="0.8"/>
<rect x="192.0" y="382" width="0.9" height="96" fill="#e28a6c"/>
<circle cx="196.2" cy="472.0" r="1.5" fill="#fff"/>
<circle cx="248.3" cy="472.0" r="1.3" fill="#e8d060"/>
<text transform="translate(135.90,394.30) scale(0.1057,0.1000)" font-size="80.0" text-anchor="start" fill="#ecebe8" stroke="#ecebe8" stroke-width="1.8" stroke-linejoin="round">Name: profile angles</text>
<text transform="translate(135.90,404.70) scale(0.1057,0.1000)" font-size="80.0" text-anchor="start" fill="#ecebe8" stroke="#ecebe8" stroke-width="1.8" stroke-linejoin="round">&gt;&gt; Angles: 90</text>
<text transform="translate(135.90,415.00) scale(0.1057,0.1000)" font-size="80.0" text-anchor="start" fill="#ecebe8" stroke="#ecebe8" stroke-width="1.8" stroke-linejoin="round">Etch:6.5s</text>
<text transform="translate(135.90,425.70) scale(0.1057,0.1000)" font-size="80.0" text-anchor="start" fill="#ecebe8" stroke="#ecebe8" stroke-width="1.8" stroke-linejoin="round">Passivation:5s</text>
<text transform="translate(135.90,436.00) scale(0.1057,0.1000)" font-size="80.0" text-anchor="start" fill="#ecebe8" stroke="#ecebe8" stroke-width="1.8" stroke-linejoin="round">Ratio:1.3</text>
<text transform="translate(135.90,446.30) scale(0.1057,0.1000)" font-size="80.0" text-anchor="start" fill="#ecebe8" stroke="#ecebe8" stroke-width="1.8" stroke-linejoin="round">Normal C4F8\SF6</text>
</g></g>
<defs><linearGradient id="g3" x1="0" x2="0" y1="0" y2="1"><stop offset="0" stop-color="#d2d2d2"/><stop offset="0.14" stop-color="#a8a8a8"/><stop offset="0.45" stop-color="#868686"/><stop offset="1" stop-color="#686868"/></linearGradient></defs>
<clipPath id="ci3"><rect x="266.2" y="385.2" width="132.8" height="89.6"/></clipPath>
<g clip-path="url(#ci3)"><g filter="url(#bl)">
<rect x="264" y="382" width="138" height="96" fill="#5a5655"/>
<rect x="323.1" y="382" width="29.9" height="96" fill="url(#g3)"/>
<rect x="323.1" y="382" width="7.4" height="96" fill="#565252" opacity="0.6"/>
<path d="M333.4 471.5 L388.6 471.5 M333.4 471.5 L387.8 464.1 M333.4 471.5 L385.3 456.9 M333.4 471.5 L381.2 450.2 M333.4 471.5 L375.7 444.1 M333.4 471.5 L368.9 438.9 M333.4 471.5 L361.0 434.6 M333.4 471.5 L352.3 431.5 M333.4 471.5 L343.0 429.6 M333.4 471.5 L333.4 428.9 M333.4 471.5 L323.8 429.6 M333.4 471.5 L314.5 431.5 M333.4 471.5 L305.8 434.6 M333.4 471.5 L297.9 438.9 M333.4 471.5 L291.1 444.1 M333.4 471.5 L285.6 450.2 M333.4 471.5 L281.5 456.9 M333.4 471.5 L279.0 464.1 M333.4 471.5 L278.2 471.5" stroke="#3a3838" stroke-width="0.35" fill="none" opacity="0.45"/>
<path d="M276.5 471.5 A56.9 43.9 0 0 1 390.3 471.5" stroke="#2c2a2a" stroke-width="2.6" fill="none" stroke-dasharray="2.2,3.6" opacity="0.55"/>
<path d="M274.3 471.5 A59.1 46.1 0 0 1 392.5 471.5" stroke="#3a3838" stroke-width="0.5" fill="none" opacity="0.8"/>
<path d="M287.4 471.5 A46.0 34.6 0 0 1 379.4 471.5" stroke="#7468c4" stroke-width="3.2" fill="none" opacity="0.6"/>
<path d="M287.4 471.5 A46.0 34.6 0 0 1 379.4 471.5" stroke="#4a3fa0" stroke-width="2.0" fill="none" stroke-dasharray="1.5,4.2" opacity="0.45"/>
<rect x="330.5" y="382" width="0.9" height="96" fill="#a85c44"/>
<circle cx="333.4" cy="471.5" r="1.5" fill="#fff"/>
<circle cx="391.3" cy="471.0" r="1.3" fill="#e8d060"/>
<text transform="translate(269.30,394.30) scale(0.1057,0.1000)" font-size="80.0" text-anchor="start" fill="#ecebe8" stroke="#ecebe8" stroke-width="1.8" stroke-linejoin="round">Name: profile angles</text>
<text transform="translate(269.30,404.70) scale(0.1057,0.1000)" font-size="80.0" text-anchor="start" fill="#ecebe8" stroke="#ecebe8" stroke-width="1.8" stroke-linejoin="round">&gt;&gt; Angles: 91</text>
<text transform="translate(269.30,415.00) scale(0.1057,0.1000)" font-size="80.0" text-anchor="start" fill="#ecebe8" stroke="#ecebe8" stroke-width="1.8" stroke-linejoin="round">Etch:4.5s</text>
<text transform="translate(269.30,425.70) scale(0.1057,0.1000)" font-size="80.0" text-anchor="start" fill="#ecebe8" stroke="#ecebe8" stroke-width="1.8" stroke-linejoin="round">Passivation:4s</text>
<text transform="translate(269.30,436.00) scale(0.1057,0.1000)" font-size="80.0" text-anchor="start" fill="#ecebe8" stroke="#ecebe8" stroke-width="1.8" stroke-linejoin="round">Ratio:1.125</text>
<text transform="translate(269.30,446.30) scale(0.1057,0.1000)" font-size="80.0" text-anchor="start" fill="#ecebe8" stroke="#ecebe8" stroke-width="1.8" stroke-linejoin="round">Normal C4F8\SF6</text>
</g></g>
<clipPath id="cd"><rect x="427.2" y="315.5" width="144.80" height="158.00"/></clipPath>
<g clip-path="url(#cd)">
<rect x="427.2" y="315.5" width="144.80" height="158.00" fill="#d22b27"/>
<polygon fill="#f16d43" points="517.1,474 529.7,456.8 542.2,446.4 558.9,437 573,431.8 573,310 420,310 420,474"/>
<polygon fill="#fdbe6e" points="477.8,474 497.1,454.5 510.6,440.1 523.4,426.5 535.9,410.9 552.6,401.5 573,391.6 573,310 420,310 420,474"/>
<polygon fill="#ffffbf" points="439.3,474 458.5,455.5 477.8,434.3 497.1,413.1 508.2,400 515.5,392.1 526.5,383 541.1,374.8 559.3,368.4 573,362.9 573,310 420,310 420,474"/>
<polygon fill="#b7e075" points="426,444.5 439.3,428.5 458.5,409.3 465.6,400 472.9,390.3 482,379.3 493,368.4 504.6,360.2 521,352 537.4,342.8 550.2,328.2 560.3,315.5 560.3,310 420,310"/>
<polygon fill="#70c164" points="426,409.3 437.3,400 447.4,383 456.5,370.2 463.8,357.4 474.7,344.7 489.3,328.2 497.5,321.5 508.5,315.5 508.5,310 420,310"/>
<polygon fill="#1a9850" points="426,343.8 464.7,315.5 464.7,310 420,310"/>
</g>
<rect x="427.2" y="315.5" width="144.80" height="158.00" fill="none" stroke="#b8b890" stroke-width="0.5" stroke-dasharray="1,1" opacity="0.7"/>
<g filter="url(#bl)">
<text transform="translate(446.50,331.50) scale(0.1060,0.1000)" font-size="46.0" text-anchor="middle" fill="#111" stroke="#111" stroke-width="0.7" stroke-linejoin="round">38nm</text>
<text transform="translate(465.60,362.20) scale(0.1060,0.1000)" font-size="46.0" text-anchor="middle" fill="#111" stroke="#111" stroke-width="0.7" stroke-linejoin="round">100nm</text>
<text transform="translate(503.00,364.80) scale(0.1060,0.1000)" font-size="46.0" text-anchor="middle" fill="#111" stroke="#111" stroke-width="0.7" stroke-linejoin="round">180nm</text>
<text transform="translate(514.00,396.20) scale(0.1060,0.1000)" font-size="46.0" text-anchor="middle" fill="#111" stroke="#111" stroke-width="0.7" stroke-linejoin="round">280nm</text>
<text transform="translate(527.20,424.90) scale(0.1060,0.1000)" font-size="46.0" text-anchor="middle" fill="#111" stroke="#111" stroke-width="0.7" stroke-linejoin="round">340nm</text>
<text transform="translate(540.10,452.50) scale(0.1060,0.1000)" font-size="46.0" text-anchor="middle" fill="#111" stroke="#111" stroke-width="0.7" stroke-linejoin="round">520nm</text>
<text transform="translate(506.30,299.50) scale(0.1059,0.1000)" font-size="80.0" text-anchor="middle" font-weight="bold" fill="#1c1c1c" stroke="#1c1c1c" stroke-width="2.2" stroke-linejoin="round">Variation of average scallop depth</text>
<text transform="translate(506.50,309.60) scale(0.1065,0.1000)" font-size="80.0" text-anchor="middle" font-weight="bold" fill="#1c1c1c" stroke="#1c1c1c" stroke-width="2.2" stroke-linejoin="round">with etch &amp; passivation cycle times</text>
<text transform="translate(405.00,314.50) scale(0.1000,0.1000)" font-size="166.0" text-anchor="start" font-weight="bold" fill="#000" stroke="#000" stroke-width="2.2" stroke-linejoin="round">d</text>
<text transform="translate(427.30,481.90) scale(0.1060,0.1000)" font-size="64.5" text-anchor="middle" fill="#1c1c1c" stroke="#1c1c1c" stroke-width="1.8" stroke-linejoin="round">4.0</text>
<text transform="translate(425.20,317.80) scale(0.1060,0.1000)" font-size="64.5" text-anchor="end" fill="#1c1c1c" stroke="#1c1c1c" stroke-width="1.8" stroke-linejoin="round">6.0</text>
<text transform="translate(445.36,481.90) scale(0.1060,0.1000)" font-size="64.5" text-anchor="middle" fill="#1c1c1c" stroke="#1c1c1c" stroke-width="1.8" stroke-linejoin="round">4.5</text>
<text transform="translate(425.20,337.53) scale(0.1060,0.1000)" font-size="64.5" text-anchor="end" fill="#1c1c1c" stroke="#1c1c1c" stroke-width="1.8" stroke-linejoin="round">5.5</text>
<text transform="translate(463.42,481.90) scale(0.1060,0.1000)" font-size="64.5" text-anchor="middle" fill="#1c1c1c" stroke="#1c1c1c" stroke-width="1.8" stroke-linejoin="round">5.0</text>
<text transform="translate(425.20,357.26) scale(0.1060,0.1000)" font-size="64.5" text-anchor="end" fill="#1c1c1c" stroke="#1c1c1c" stroke-width="1.8" stroke-linejoin="round">5.0</text>
<text transform="translate(481.48,481.90) scale(0.1060,0.1000)" font-size="64.5" text-anchor="middle" fill="#1c1c1c" stroke="#1c1c1c" stroke-width="1.8" stroke-linejoin="round">5.5</text>
<text transform="translate(425.20,376.99) scale(0.1060,0.1000)" font-size="64.5" text-anchor="end" fill="#1c1c1c" stroke="#1c1c1c" stroke-width="1.8" stroke-linejoin="round">4.5</text>
<text transform="translate(499.54,481.90) scale(0.1060,0.1000)" font-size="64.5" text-anchor="middle" fill="#1c1c1c" stroke="#1c1c1c" stroke-width="1.8" stroke-linejoin="round">6.0</text>
<text transform="translate(425.20,396.72) scale(0.1060,0.1000)" font-size="64.5" text-anchor="end" fill="#1c1c1c" stroke="#1c1c1c" stroke-width="1.8" stroke-linejoin="round">4.0</text>
<text transform="translate(517.60,481.90) scale(0.1060,0.1000)" font-size="64.5" text-anchor="middle" fill="#1c1c1c" stroke="#1c1c1c" stroke-width="1.8" stroke-linejoin="round">6.5</text>
<text transform="translate(425.20,416.45) scale(0.1060,0.1000)" font-size="64.5" text-anchor="end" fill="#1c1c1c" stroke="#1c1c1c" stroke-width="1.8" stroke-linejoin="round">3.5</text>
<text transform="translate(535.66,481.90) scale(0.1060,0.1000)" font-size="64.5" text-anchor="middle" fill="#1c1c1c" stroke="#1c1c1c" stroke-width="1.8" stroke-linejoin="round">7.0</text>
<text transform="translate(425.20,436.18) scale(0.1060,0.1000)" font-size="64.5" text-anchor="end" fill="#1c1c1c" stroke="#1c1c1c" stroke-width="1.8" stroke-linejoin="round">3.0</text>
<text transform="translate(553.72,481.90) scale(0.1060,0.1000)" font-size="64.5" text-anchor="middle" fill="#1c1c1c" stroke="#1c1c1c" stroke-width="1.8" stroke-linejoin="round">7.5</text>
<text transform="translate(425.20,455.91) scale(0.1060,0.1000)" font-size="64.5" text-anchor="end" fill="#1c1c1c" stroke="#1c1c1c" stroke-width="1.8" stroke-linejoin="round">2.5</text>
<text transform="translate(571.78,481.90) scale(0.1060,0.1000)" font-size="64.5" text-anchor="middle" fill="#1c1c1c" stroke="#1c1c1c" stroke-width="1.8" stroke-linejoin="round">8.0</text>
<text transform="translate(425.20,475.64) scale(0.1060,0.1000)" font-size="64.5" text-anchor="end" fill="#1c1c1c" stroke="#1c1c1c" stroke-width="1.8" stroke-linejoin="round">2.0</text>
<text transform="translate(499.80,490.20) scale(0.1060,0.1000)" font-size="64.5" text-anchor="middle" font-weight="bold" fill="#1c1c1c" stroke="#1c1c1c" stroke-width="2.2" stroke-linejoin="round">Etch time (s)</text>
<text transform="translate(409.50,394.50) rotate(-90) scale(0.1060,0.1000)" font-size="64.5" text-anchor="middle" font-weight="bold" fill="#1c1c1c" stroke="#1c1c1c" stroke-width="2.2" stroke-linejoin="round">Passivation time (s)</text>
</g>
<clipPath id="cd1"><rect x="583.2" y="311.7" width="102.1" height="83.8"/></clipPath>
<g clip-path="url(#cd1)"><g filter="url(#bl)">
<rect x="581" y="309" width="107" height="89" fill="#6b6b6b"/>
<rect x="650.3" y="309" width="27" height="89" fill="#4c4c4c"/>
<rect x="651" y="314.0" width="26" height="2.6" fill="#5c5c5c" opacity="0.8"/>
<rect x="651" y="321.4" width="26" height="2.6" fill="#5c5c5c" opacity="0.8"/>
<rect x="651" y="328.8" width="26" height="2.6" fill="#5c5c5c" opacity="0.8"/>
<rect x="651" y="336.2" width="26" height="2.6" fill="#5c5c5c" opacity="0.8"/>
<rect x="651" y="343.6" width="26" height="2.6" fill="#5c5c5c" opacity="0.8"/>
<rect x="651" y="351.0" width="26" height="2.6" fill="#5c5c5c" opacity="0.8"/>
<rect x="651" y="358.4" width="26" height="2.6" fill="#5c5c5c" opacity="0.8"/>
<rect x="651" y="365.8" width="26" height="2.6" fill="#5c5c5c" opacity="0.8"/>
<rect x="651" y="373.2" width="26" height="2.6" fill="#5c5c5c" opacity="0.8"/>
<rect x="651" y="380.6" width="26" height="2.6" fill="#5c5c5c" opacity="0.8"/>
<rect x="651" y="388.0" width="26" height="2.6" fill="#5c5c5c" opacity="0.8"/>
<rect x="677.2" y="309" width="10" height="89" fill="#303030"/>
<path d="M650.0 309.0 Q650.9 310.9 650.0 312.7 Q649.1 314.5 650.0 316.4 Q650.9 318.2 650.0 320.1 Q649.1 321.9 650.0 323.8 Q650.9 325.6 650.0 327.5 Q649.1 329.3 650.0 331.2 Q650.9 333.0 650.0 334.9 Q649.1 336.7 650.0 338.6 Q650.9 340.4 650.0 342.3 Q649.1 344.1 650.0 346.0 Q650.9 347.8 650.0 349.7 Q649.1 351.5 650.0 353.4 Q650.9 355.2 650.0 357.1 Q649.1 358.9 650.0 360.8 Q650.9 362.6 650.0 364.5 Q649.1 366.3 650.0 368.2 Q650.9 370.0 650.0 371.9 Q649.1 373.7 650.0 375.6 Q650.9 377.4 650.0 379.3 Q649.1 381.1 650.0 383.0 Q650.9 384.8 650.0 386.7 Q649.1 388.5 650.0 390.4 Q650.9 392.2 650.0 394.1 Q649.1 395.9 650.0 397.8 Q650.9 397.9 650.0 398.0" stroke="#c4c4c4" stroke-width="0.9" fill="none"/>
<path d="M584.5 393.2 h38" stroke="#e0e0e0" stroke-width="1.4" stroke-dasharray="1.6,0.7,3,0.6,2.2,0.8" opacity="0.8"/><rect x="674" y="392.6" width="9" height="1.3" fill="#ddd"/>
<path d="M655 389.5 h24" stroke="#ccc" stroke-width="0.7" stroke-dasharray="0.6,2.2"/>
<text transform="translate(585.10,320.00) scale(0.1057,0.1000)" font-size="80.0" text-anchor="start" fill="#ecebe8" stroke="#ecebe8" stroke-width="1.8" stroke-linejoin="round">Name: scallop depth</text>
<text transform="translate(585.10,330.90) scale(0.1057,0.1000)" font-size="80.0" text-anchor="start" fill="#ecebe8" stroke="#ecebe8" stroke-width="1.8" stroke-linejoin="round">&gt;&gt; Depth: 248nm</text>
<text transform="translate(585.10,341.30) scale(0.1057,0.1000)" font-size="80.0" text-anchor="start" fill="#ecebe8" stroke="#ecebe8" stroke-width="1.8" stroke-linejoin="round">Etch:6s</text>
<text transform="translate(585.10,351.70) scale(0.1057,0.1000)" font-size="80.0" text-anchor="start" fill="#ecebe8" stroke="#ecebe8" stroke-width="1.8" stroke-linejoin="round">Passivation:4s</text>
<text transform="translate(585.10,362.20) scale(0.1057,0.1000)" font-size="80.0" text-anchor="start" fill="#ecebe8" stroke="#ecebe8" stroke-width="1.8" stroke-linejoin="round">Ratio:1.5</text>
<text transform="translate(585.10,372.80) scale(0.1057,0.1000)" font-size="80.0" text-anchor="start" fill="#ecebe8" stroke="#ecebe8" stroke-width="1.8" stroke-linejoin="round">Normal C4F8\SF6</text>
</g></g>
<clipPath id="cd2"><rect x="688.2" y="311.5" width="102.2" height="84.1"/></clipPath>
<g clip-path="url(#cd2)"><g filter="url(#bl)">
<rect x="686" y="309" width="107" height="89" fill="#696969"/>
<rect x="751" y="309" width="42" height="89" fill="#1f1f1f"/>
<ellipse cx="754.5" cy="318.0" rx="4.2" ry="2.2" fill="#5a5a5a" opacity="0.55"/>
<ellipse cx="754.5" cy="327.2" rx="4.2" ry="2.2" fill="#5a5a5a" opacity="0.55"/>
<ellipse cx="754.5" cy="336.4" rx="4.2" ry="2.2" fill="#5a5a5a" opacity="0.55"/>
<ellipse cx="754.5" cy="345.6" rx="4.2" ry="2.2" fill="#5a5a5a" opacity="0.55"/>
<ellipse cx="754.5" cy="354.8" rx="4.2" ry="2.2" fill="#5a5a5a" opacity="0.55"/>
<ellipse cx="754.5" cy="364.0" rx="4.2" ry="2.2" fill="#5a5a5a" opacity="0.55"/>
<ellipse cx="754.5" cy="373.2" rx="4.2" ry="2.2" fill="#5a5a5a" opacity="0.55"/>
<ellipse cx="754.5" cy="382.4" rx="4.2" ry="2.2" fill="#5a5a5a" opacity="0.55"/>
<ellipse cx="754.5" cy="391.6" rx="4.2" ry="2.2" fill="#5a5a5a" opacity="0.55"/>
<path d="M750.6 309.0 Q752.4 311.3 750.6 313.6 Q748.8 315.9 750.6 318.2 Q752.4 320.5 750.6 322.8 Q748.8 325.1 750.6 327.4 Q752.4 329.7 750.6 332.0 Q748.8 334.3 750.6 336.6 Q752.4 338.9 750.6 341.2 Q748.8 343.5 750.6 345.8 Q752.4 348.1 750.6 350.4 Q748.8 352.7 750.6 355.0 Q752.4 357.3 750.6 359.6 Q748.8 361.9 750.6 364.2 Q752.4 366.5 750.6 368.8 Q748.8 371.1 750.6 373.4 Q752.4 375.7 750.6 378.0 Q748.8 380.3 750.6 382.6 Q752.4 384.9 750.6 387.2 Q748.8 389.5 750.6 391.8 Q752.4 394.1 750.6 396.4 Q748.8 397.2 750.6 398.0" stroke="#f0f0f0" stroke-width="1.2" fill="none"/>
<path d="M689.5 393.2 h36" stroke="#e0e0e0" stroke-width="1.4" stroke-dasharray="1.6,0.7,3,0.6,2.2,0.8" opacity="0.8"/><rect x="779" y="392.6" width="9" height="1.3" fill="#ddd"/>
<path d="M755 389.5 h24" stroke="#ccc" stroke-width="0.7" stroke-dasharray="0.6,2.2"/>
<text transform="translate(689.80,320.00) scale(0.1057,0.1000)" font-size="80.0" text-anchor="start" fill="#ecebe8" stroke="#ecebe8" stroke-width="1.8" stroke-linejoin="round">Name: scallop depth</text>
<text transform="translate(689.80,330.90) scale(0.1057,0.1000)" font-size="80.0" text-anchor="start" fill="#ecebe8" stroke="#ecebe8" stroke-width="1.8" stroke-linejoin="round">&gt;&gt; Depth: 353nm</text>
<text transform="translate(689.80,341.30) scale(0.1057,0.1000)" font-size="80.0" text-anchor="start" fill="#ecebe8" stroke="#ecebe8" stroke-width="1.8" stroke-linejoin="round">Etch:6s</text>
<text transform="translate(689.80,351.70) scale(0.1057,0.1000)" font-size="80.0" text-anchor="start" fill="#ecebe8" stroke="#ecebe8" stroke-width="1.8" stroke-linejoin="round">Passivation:2.5s</text>
<text transform="translate(689.80,362.20) scale(0.1057,0.1000)" font-size="80.0" text-anchor="start" fill="#ecebe8" stroke="#ecebe8" stroke-width="1.8" stroke-linejoin="round">Ratio:2</text>
<text transform="translate(689.80,372.80) scale(0.1057,0.1000)" font-size="80.0" text-anchor="start" fill="#ecebe8" stroke="#ecebe8" stroke-width="1.8" stroke-linejoin="round">Normal C4F8\SF6</text>
</g></g>
<clipPath id="cd3"><rect x="583.4" y="400.6" width="102.0" height="85.9"/></clipPath>
<g clip-path="url(#cd3)"><g filter="url(#bl)">
<rect x="581" y="398" width="107" height="91" fill="#767676"/>
<rect x="581" y="398" width="59" height="91" fill="#272727"/>
<path d="M640.0 398.0 Q640.7 399.3 640.0 400.6 Q639.3 401.9 640.0 403.2 Q640.7 404.5 640.0 405.8 Q639.3 407.1 640.0 408.4 Q640.7 409.7 640.0 411.0 Q639.3 412.3 640.0 413.6 Q640.7 414.9 640.0 416.2 Q639.3 417.5 640.0 418.8 Q640.7 420.1 640.0 421.4 Q639.3 422.7 640.0 424.0 Q640.7 425.3 640.0 426.6 Q639.3 427.9 640.0 429.2 Q640.7 430.5 640.0 431.8 Q639.3 433.1 640.0 434.4 Q640.7 435.7 640.0 437.0 Q639.3 438.3 640.0 439.6 Q640.7 440.9 640.0 442.2 Q639.3 443.5 640.0 444.8 Q640.7 446.1 640.0 447.4 Q639.3 448.7 640.0 450.0 Q640.7 451.3 640.0 452.6 Q639.3 453.9 640.0 455.2 Q640.7 456.5 640.0 457.8 Q639.3 459.1 640.0 460.4 Q640.7 461.7 640.0 463.0 Q639.3 464.3 640.0 465.6 Q640.7 466.9 640.0 468.2 Q639.3 469.5 640.0 470.8 Q640.7 472.1 640.0 473.4 Q639.3 474.7 640.0 476.0 Q640.7 477.3 640.0 478.6 Q639.3 479.9 640.0 481.2 Q640.7 482.5 640.0 483.8 Q639.3 485.1 640.0 486.4 Q640.7 487.7 640.0 489.0" stroke="#e8e8e8" stroke-width="1.0" fill="none"/>
<path d="M584.5 484 h36" stroke="#e0e0e0" stroke-width="1.4" stroke-dasharray="1.6,0.7,3,0.6,2.2,0.8" opacity="0.8"/><rect x="674" y="483.4" width="9" height="1.3" fill="#ddd"/>
<path d="M648 480.5 h30" stroke="#ddd" stroke-width="0.7" stroke-dasharray="0.6,2.2"/>
<text transform="translate(585.40,410.50) scale(0.1057,0.1000)" font-size="80.0" text-anchor="start" fill="#ecebe8" stroke="#ecebe8" stroke-width="1.8" stroke-linejoin="round">Name: scallop depth</text>
<text transform="translate(585.40,420.90) scale(0.1057,0.1000)" font-size="80.0" text-anchor="start" fill="#ecebe8" stroke="#ecebe8" stroke-width="1.8" stroke-linejoin="round">&gt;&gt; Depth: 174nm</text>
<text transform="translate(585.40,431.40) scale(0.1057,0.1000)" font-size="80.0" text-anchor="start" fill="#ecebe8" stroke="#ecebe8" stroke-width="1.8" stroke-linejoin="round">Etch:6.5s</text>
<text transform="translate(585.40,442.10) scale(0.1057,0.1000)" font-size="80.0" text-anchor="start" fill="#ecebe8" stroke="#ecebe8" stroke-width="1.8" stroke-linejoin="round">Passivation:5s</text>
<text transform="translate(585.40,452.40) scale(0.1057,0.1000)" font-size="80.0" text-anchor="start" fill="#ecebe8" stroke="#ecebe8" stroke-width="1.8" stroke-linejoin="round">Ratio:1.3</text>
<text transform="translate(585.40,463.00) scale(0.1057,0.1000)" font-size="80.0" text-anchor="start" fill="#ecebe8" stroke="#ecebe8" stroke-width="1.8" stroke-linejoin="round">Normal C4F8\SF6</text>
</g></g>
<clipPath id="cd4"><rect x="687.6" y="400.6" width="102.3" height="85.8"/></clipPath>
<g clip-path="url(#cd4)"><g filter="url(#bl)">
<rect x="685" y="398" width="107" height="91" fill="#676767"/>
<rect x="685" y="398" width="53" height="91" fill="#3b3b3b"/>
<path d="M738.2 398.0 Q739.2 399.5 738.2 401.0 Q737.2 402.5 738.2 404.0 Q739.2 405.5 738.2 407.0 Q737.2 408.5 738.2 410.0 Q739.2 411.5 738.2 413.0 Q737.2 414.5 738.2 416.0 Q739.2 417.5 738.2 419.0 Q737.2 420.5 738.2 422.0 Q739.2 423.5 738.2 425.0 Q737.2 426.5 738.2 428.0 Q739.2 429.5 738.2 431.0 Q737.2 432.5 738.2 434.0 Q739.2 435.5 738.2 437.0 Q737.2 438.5 738.2 440.0 Q739.2 441.5 738.2 443.0 Q737.2 444.5 738.2 446.0 Q739.2 447.5 738.2 449.0 Q737.2 450.5 738.2 452.0 Q739.2 453.5 738.2 455.0 Q737.2 456.5 738.2 458.0 Q739.2 459.5 738.2 461.0 Q737.2 462.5 738.2 464.0 Q739.2 465.5 738.2 467.0 Q737.2 468.5 738.2 470.0 Q739.2 471.5 738.2 473.0 Q737.2 474.5 738.2 476.0 Q739.2 477.5 738.2 479.0 Q737.2 480.5 738.2 482.0 Q739.2 483.5 738.2 485.0 Q737.2 486.5 738.2 488.0 Q739.2 488.5 738.2 489.0" stroke="#f0f0f0" stroke-width="1.3" fill="none"/>
<path d="M691 484 h34" stroke="#e0e0e0" stroke-width="1.4" stroke-dasharray="1.6,0.7,3,0.6,2.2,0.8" opacity="0.8"/><rect x="779" y="483.4" width="8" height="1.3" fill="#ddd"/>
<path d="M750 480.5 h30" stroke="#ccc" stroke-width="0.7" stroke-dasharray="0.6,2.2"/>
<text transform="translate(690.60,410.50) scale(0.1057,0.1000)" font-size="80.0" text-anchor="start" fill="#ecebe8" stroke="#ecebe8" stroke-width="1.8" stroke-linejoin="round">Name: scallop depth</text>
<text transform="translate(690.60,420.90) scale(0.1057,0.1000)" font-size="80.0" text-anchor="start" fill="#ecebe8" stroke="#ecebe8" stroke-width="1.8" stroke-linejoin="round">&gt;&gt; Depth: 126nm</text>
<text transform="translate(690.60,431.40) scale(0.1057,0.1000)" font-size="80.0" text-anchor="start" fill="#ecebe8" stroke="#ecebe8" stroke-width="1.8" stroke-linejoin="round">Etch:4.5s</text>
<text transform="translate(690.60,442.10) scale(0.1057,0.1000)" font-size="80.0" text-anchor="start" fill="#ecebe8" stroke="#ecebe8" stroke-width="1.8" stroke-linejoin="round">Passivation:4s</text>
<text transform="translate(690.60,452.40) scale(0.1057,0.1000)" font-size="80.0" text-anchor="start" fill="#ecebe8" stroke="#ecebe8" stroke-width="1.8" stroke-linejoin="round">Ratio:1.125</text>
<text transform="translate(690.60,463.00) scale(0.1057,0.1000)" font-size="80.0" text-anchor="start" fill="#ecebe8" stroke="#ecebe8" stroke-width="1.8" stroke-linejoin="round">Normal C4F8\SF6</text>
</g></g>
</svg></body></html>
